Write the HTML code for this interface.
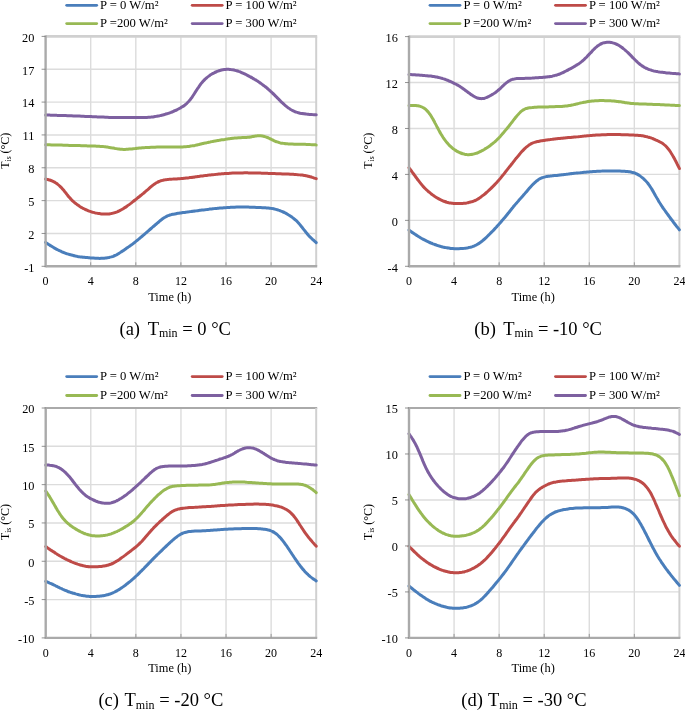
<!DOCTYPE html>
<html><head><meta charset="utf-8"><style>
html,body{margin:0;padding:0;background:#fff;}
body{width:685px;height:710px;overflow:hidden;position:relative;}
svg{position:absolute;left:0;top:0;will-change:transform;}
.t{font-family:"Liberation Serif",serif;font-size:12px;fill:#000;}
.cap{font-family:"Liberation Serif",serif;font-size:18.5px;fill:#000;}
</style></head><body>
<svg width="685" height="710" viewBox="0 0 685 710">
<rect width="685" height="710" fill="#fff"/>
<line x1="90.70" y1="36.40" x2="90.70" y2="266.30" stroke="#dcdcdc" stroke-width="1.4"/>
<line x1="135.80" y1="36.40" x2="135.80" y2="266.30" stroke="#dcdcdc" stroke-width="1.4"/>
<line x1="180.90" y1="36.40" x2="180.90" y2="266.30" stroke="#dcdcdc" stroke-width="1.4"/>
<line x1="226.00" y1="36.40" x2="226.00" y2="266.30" stroke="#dcdcdc" stroke-width="1.4"/>
<line x1="271.10" y1="36.40" x2="271.10" y2="266.30" stroke="#dcdcdc" stroke-width="1.4"/>
<line x1="45.60" y1="233.46" x2="316.20" y2="233.46" stroke="#dcdcdc" stroke-width="1.4"/>
<line x1="45.60" y1="200.61" x2="316.20" y2="200.61" stroke="#dcdcdc" stroke-width="1.4"/>
<line x1="45.60" y1="167.77" x2="316.20" y2="167.77" stroke="#dcdcdc" stroke-width="1.4"/>
<line x1="45.60" y1="134.93" x2="316.20" y2="134.93" stroke="#dcdcdc" stroke-width="1.4"/>
<line x1="45.60" y1="102.09" x2="316.20" y2="102.09" stroke="#dcdcdc" stroke-width="1.4"/>
<line x1="45.60" y1="69.24" x2="316.20" y2="69.24" stroke="#dcdcdc" stroke-width="1.4"/>
<line x1="45.60" y1="36.40" x2="317.20" y2="36.40" stroke="#d0d0d0" stroke-width="2.6"/>
<line x1="316.20" y1="36.40" x2="316.20" y2="266.30" stroke="#d0d0d0" stroke-width="2"/>
<path d="M45.6 115.0 C45.9 115.0 46.9 115.0 47.6 115.1 C48.3 115.1 48.9 115.1 49.6 115.1 C50.2 115.1 50.9 115.2 51.6 115.2 C52.2 115.2 52.9 115.2 53.6 115.2 C54.2 115.3 54.9 115.3 55.5 115.3 C56.2 115.3 56.9 115.4 57.5 115.4 C58.2 115.4 58.9 115.4 59.5 115.4 C60.2 115.5 60.9 115.5 61.5 115.5 C62.2 115.5 62.8 115.5 63.5 115.6 C64.2 115.6 64.8 115.6 65.5 115.6 C66.2 115.7 66.8 115.7 67.5 115.7 C68.1 115.7 68.8 115.7 69.5 115.8 C70.1 115.8 70.8 115.8 71.5 115.8 C72.1 115.9 72.8 115.9 73.5 115.9 C74.1 115.9 74.8 116.0 75.4 116.0 C76.1 116.0 76.8 116.0 77.4 116.1 C78.1 116.1 78.8 116.1 79.4 116.1 C80.1 116.2 80.8 116.2 81.4 116.2 C82.1 116.2 82.7 116.3 83.4 116.3 C84.1 116.3 84.7 116.3 85.4 116.4 C86.1 116.4 86.7 116.4 87.4 116.4 C88.0 116.5 88.7 116.5 89.4 116.5 C90.0 116.6 90.7 116.6 91.4 116.6 C92.0 116.6 92.7 116.7 93.4 116.7 C94.0 116.7 94.7 116.8 95.3 116.8 C96.0 116.8 96.7 116.9 97.3 116.9 C98.0 116.9 98.7 116.9 99.3 117.0 C100.0 117.0 100.6 117.0 101.3 117.1 C102.0 117.1 102.6 117.1 103.3 117.1 C104.0 117.2 104.6 117.2 105.3 117.2 C106.0 117.2 106.6 117.3 107.3 117.3 C107.9 117.3 108.6 117.3 109.3 117.4 C109.9 117.4 110.6 117.4 111.3 117.4 C111.9 117.4 112.6 117.5 113.2 117.5 C113.9 117.5 114.6 117.5 115.2 117.5 C115.9 117.5 116.6 117.5 117.2 117.6 C117.9 117.6 118.6 117.6 119.2 117.6 C119.9 117.6 120.5 117.6 121.2 117.6 C121.9 117.6 122.5 117.6 123.2 117.6 C123.9 117.6 124.5 117.6 125.2 117.6 C125.9 117.6 126.5 117.6 127.2 117.6 C127.8 117.6 128.5 117.6 129.2 117.6 C129.8 117.6 130.5 117.6 131.2 117.6 C131.8 117.6 132.5 117.6 133.1 117.6 C133.8 117.6 134.5 117.6 135.1 117.6 C135.8 117.6 136.5 117.6 137.1 117.6 C137.8 117.6 138.5 117.6 139.1 117.6 C139.8 117.6 140.4 117.6 141.1 117.6 C141.8 117.6 142.4 117.6 143.1 117.6 C143.8 117.5 144.4 117.5 145.1 117.5 C145.7 117.5 146.4 117.4 147.1 117.4 C147.7 117.4 148.4 117.3 149.1 117.3 C149.7 117.2 150.4 117.2 151.1 117.1 C151.7 117.0 152.4 116.9 153.0 116.9 C153.7 116.8 154.4 116.7 155.0 116.6 C155.7 116.5 156.4 116.4 157.0 116.2 C157.7 116.1 158.3 116.0 159.0 115.9 C159.7 115.7 160.3 115.6 161.0 115.4 C161.7 115.3 162.3 115.1 163.0 114.9 C163.7 114.8 164.3 114.6 165.0 114.4 C165.6 114.2 166.3 114.0 167.0 113.8 C167.6 113.6 168.3 113.4 169.0 113.1 C169.6 112.9 170.3 112.6 171.0 112.4 C171.6 112.1 172.3 111.9 172.9 111.6 C173.6 111.3 174.3 111.0 174.9 110.7 C175.6 110.4 176.3 110.1 176.9 109.8 C177.6 109.4 178.2 109.1 178.9 108.7 C179.6 108.4 180.2 108.0 180.9 107.6 C181.6 107.2 182.2 106.8 182.9 106.4 C183.6 106.0 184.2 105.5 184.9 105.0 C185.5 104.5 186.2 103.9 186.9 103.3 C187.5 102.7 188.2 102.0 188.9 101.3 C189.5 100.5 190.2 99.7 190.8 98.8 C191.5 98.0 192.2 97.0 192.8 96.0 C193.5 95.0 194.2 94.0 194.8 92.9 C195.5 91.9 196.2 90.8 196.8 89.8 C197.5 88.8 198.1 87.7 198.8 86.8 C199.5 85.8 200.1 84.9 200.8 84.0 C201.5 83.1 202.1 82.3 202.8 81.6 C203.4 80.8 204.1 80.1 204.8 79.5 C205.4 78.8 206.1 78.2 206.8 77.7 C207.4 77.1 208.1 76.6 208.8 76.1 C209.4 75.6 210.1 75.2 210.7 74.7 C211.4 74.3 212.1 73.9 212.7 73.5 C213.4 73.2 214.1 72.8 214.7 72.5 C215.4 72.2 216.1 71.9 216.7 71.6 C217.4 71.3 218.0 71.1 218.7 70.8 C219.4 70.6 220.0 70.4 220.7 70.2 C221.4 70.0 222.0 69.9 222.7 69.8 C223.3 69.6 224.0 69.6 224.7 69.5 C225.3 69.4 226.0 69.4 226.7 69.3 C227.3 69.3 228.0 69.3 228.7 69.3 C229.3 69.4 230.0 69.4 230.6 69.5 C231.3 69.5 232.0 69.6 232.6 69.8 C233.3 69.9 234.0 70.0 234.6 70.2 C235.3 70.3 235.9 70.5 236.6 70.7 C237.3 70.9 237.9 71.1 238.6 71.4 C239.3 71.6 239.9 71.8 240.6 72.1 C241.3 72.4 241.9 72.7 242.6 73.0 C243.2 73.3 243.9 73.6 244.6 73.9 C245.2 74.2 245.9 74.5 246.6 74.9 C247.2 75.2 247.9 75.5 248.5 75.9 C249.2 76.3 249.9 76.6 250.5 77.0 C251.2 77.3 251.9 77.7 252.5 78.1 C253.2 78.5 253.9 78.9 254.5 79.3 C255.2 79.7 255.8 80.1 256.5 80.5 C257.2 80.9 257.8 81.3 258.5 81.8 C259.2 82.2 259.8 82.7 260.5 83.1 C261.2 83.6 261.8 84.1 262.5 84.6 C263.1 85.1 263.8 85.6 264.5 86.1 C265.1 86.6 265.8 87.1 266.5 87.7 C267.1 88.2 267.8 88.8 268.4 89.3 C269.1 89.9 269.8 90.5 270.4 91.1 C271.1 91.7 271.8 92.4 272.4 93.0 C273.1 93.6 273.8 94.3 274.4 94.9 C275.1 95.6 275.7 96.3 276.4 96.9 C277.1 97.6 277.7 98.3 278.4 98.9 C279.1 99.6 279.7 100.3 280.4 100.9 C281.0 101.6 281.7 102.2 282.4 102.8 C283.0 103.5 283.7 104.1 284.4 104.7 C285.0 105.3 285.7 105.9 286.4 106.4 C287.0 106.9 287.7 107.5 288.3 107.9 C289.0 108.4 289.7 108.9 290.3 109.3 C291.0 109.7 291.7 110.0 292.3 110.4 C293.0 110.7 293.6 111.0 294.3 111.3 C295.0 111.6 295.6 111.9 296.3 112.1 C297.0 112.3 297.6 112.5 298.3 112.7 C299.0 112.9 299.6 113.0 300.3 113.2 C300.9 113.3 301.6 113.4 302.3 113.5 C302.9 113.6 303.6 113.7 304.3 113.8 C304.9 113.9 305.6 114.0 306.3 114.1 C306.9 114.1 307.6 114.2 308.2 114.2 C308.9 114.3 309.6 114.4 310.2 114.4 C310.9 114.5 311.6 114.5 312.2 114.6 C312.9 114.6 313.5 114.6 314.2 114.7 C314.9 114.7 315.9 114.8 316.2 114.8" fill="none" stroke="#7d60a0" stroke-width="3.0" stroke-linejoin="round" stroke-linecap="round"/>
<path d="M45.6 144.7 C45.9 144.7 46.9 144.7 47.6 144.8 C48.3 144.8 48.9 144.8 49.6 144.8 C50.2 144.8 50.9 144.8 51.6 144.9 C52.2 144.9 52.9 144.9 53.6 144.9 C54.2 144.9 54.9 145.0 55.5 145.0 C56.2 145.0 56.9 145.0 57.5 145.0 C58.2 145.0 58.9 145.1 59.5 145.1 C60.2 145.1 60.9 145.1 61.5 145.1 C62.2 145.2 62.8 145.2 63.5 145.2 C64.2 145.2 64.8 145.2 65.5 145.3 C66.2 145.3 66.8 145.3 67.5 145.3 C68.1 145.3 68.8 145.3 69.5 145.4 C70.1 145.4 70.8 145.4 71.5 145.4 C72.1 145.4 72.8 145.5 73.5 145.5 C74.1 145.5 74.8 145.5 75.4 145.5 C76.1 145.6 76.8 145.6 77.4 145.6 C78.1 145.6 78.8 145.6 79.4 145.6 C80.1 145.7 80.8 145.7 81.4 145.7 C82.1 145.7 82.7 145.7 83.4 145.8 C84.1 145.8 84.7 145.8 85.4 145.8 C86.1 145.8 86.7 145.9 87.4 145.9 C88.0 145.9 88.7 145.9 89.4 145.9 C90.0 146.0 90.7 146.0 91.4 146.0 C92.0 146.0 92.7 146.0 93.4 146.1 C94.0 146.1 94.7 146.1 95.3 146.1 C96.0 146.1 96.7 146.2 97.3 146.2 C98.0 146.2 98.7 146.3 99.3 146.3 C100.0 146.4 100.6 146.4 101.3 146.5 C102.0 146.5 102.6 146.6 103.3 146.6 C104.0 146.7 104.6 146.8 105.3 146.8 C106.0 146.9 106.6 147.0 107.3 147.1 C107.9 147.2 108.6 147.3 109.3 147.4 C109.9 147.5 110.6 147.6 111.3 147.8 C111.9 147.9 112.6 148.0 113.2 148.1 C113.9 148.2 114.6 148.3 115.2 148.4 C115.9 148.5 116.6 148.7 117.2 148.8 C117.9 148.9 118.6 149.0 119.2 149.0 C119.9 149.1 120.5 149.2 121.2 149.3 C121.9 149.3 122.5 149.4 123.2 149.4 C123.9 149.4 124.5 149.4 125.2 149.4 C125.9 149.4 126.5 149.3 127.2 149.3 C127.8 149.3 128.5 149.2 129.2 149.1 C129.8 149.1 130.5 149.0 131.2 148.9 C131.8 148.9 132.5 148.8 133.1 148.7 C133.8 148.6 134.5 148.5 135.1 148.5 C135.8 148.4 136.5 148.3 137.1 148.2 C137.8 148.2 138.5 148.1 139.1 148.0 C139.8 148.0 140.4 147.9 141.1 147.9 C141.8 147.8 142.4 147.8 143.1 147.7 C143.8 147.7 144.4 147.6 145.1 147.6 C145.7 147.5 146.4 147.5 147.1 147.5 C147.7 147.4 148.4 147.4 149.1 147.4 C149.7 147.3 150.4 147.3 151.1 147.3 C151.7 147.3 152.4 147.2 153.0 147.2 C153.7 147.2 154.4 147.2 155.0 147.2 C155.7 147.1 156.4 147.1 157.0 147.1 C157.7 147.1 158.3 147.1 159.0 147.1 C159.7 147.1 160.3 147.0 161.0 147.0 C161.7 147.0 162.3 147.0 163.0 147.0 C163.7 147.0 164.3 147.0 165.0 147.0 C165.6 147.0 166.3 147.0 167.0 147.0 C167.6 147.0 168.3 147.0 169.0 147.0 C169.6 147.0 170.3 147.0 171.0 147.0 C171.6 147.0 172.3 147.1 172.9 147.1 C173.6 147.1 174.3 147.1 174.9 147.1 C175.6 147.1 176.3 147.1 176.9 147.1 C177.6 147.1 178.2 147.1 178.9 147.1 C179.6 147.1 180.2 147.0 180.9 147.0 C181.6 147.0 182.2 147.0 182.9 146.9 C183.6 146.9 184.2 146.8 184.9 146.8 C185.5 146.7 186.2 146.7 186.9 146.6 C187.5 146.5 188.2 146.5 188.9 146.4 C189.5 146.3 190.2 146.2 190.8 146.1 C191.5 146.0 192.2 145.9 192.8 145.7 C193.5 145.6 194.2 145.5 194.8 145.4 C195.5 145.2 196.2 145.1 196.8 144.9 C197.5 144.8 198.1 144.6 198.8 144.5 C199.5 144.3 200.1 144.2 200.8 144.0 C201.5 143.9 202.1 143.7 202.8 143.6 C203.4 143.4 204.1 143.3 204.8 143.1 C205.4 143.0 206.1 142.8 206.8 142.7 C207.4 142.5 208.1 142.4 208.8 142.2 C209.4 142.1 210.1 142.0 210.7 141.8 C211.4 141.7 212.1 141.6 212.7 141.4 C213.4 141.3 214.1 141.2 214.7 141.1 C215.4 140.9 216.1 140.8 216.7 140.7 C217.4 140.6 218.0 140.5 218.7 140.4 C219.4 140.2 220.0 140.1 220.7 140.0 C221.4 139.9 222.0 139.8 222.7 139.7 C223.3 139.6 224.0 139.5 224.7 139.4 C225.3 139.3 226.0 139.2 226.7 139.1 C227.3 139.0 228.0 138.9 228.7 138.8 C229.3 138.7 230.0 138.6 230.6 138.5 C231.3 138.4 232.0 138.3 232.6 138.2 C233.3 138.2 234.0 138.1 234.6 138.0 C235.3 138.0 235.9 137.9 236.6 137.9 C237.3 137.8 237.9 137.8 238.6 137.8 C239.3 137.8 239.9 137.7 240.6 137.7 C241.3 137.7 241.9 137.7 242.6 137.6 C243.2 137.6 243.9 137.6 244.6 137.5 C245.2 137.5 245.9 137.4 246.6 137.4 C247.2 137.3 247.9 137.3 248.5 137.2 C249.2 137.1 249.9 137.0 250.5 136.9 C251.2 136.8 251.9 136.6 252.5 136.5 C253.2 136.4 253.9 136.3 254.5 136.2 C255.2 136.1 255.8 136.0 256.5 135.9 C257.2 135.9 257.8 135.8 258.5 135.8 C259.2 135.8 259.8 135.8 260.5 135.8 C261.2 135.8 261.8 135.9 262.5 136.0 C263.1 136.1 263.8 136.3 264.5 136.5 C265.1 136.6 265.8 136.9 266.5 137.1 C267.1 137.4 267.8 137.6 268.4 137.9 C269.1 138.2 269.8 138.6 270.4 138.9 C271.1 139.3 271.8 139.6 272.4 139.9 C273.1 140.3 273.8 140.6 274.4 140.9 C275.1 141.2 275.7 141.5 276.4 141.7 C277.1 141.9 277.7 142.2 278.4 142.3 C279.1 142.5 279.7 142.7 280.4 142.9 C281.0 143.0 281.7 143.1 282.4 143.2 C283.0 143.4 283.7 143.5 284.4 143.5 C285.0 143.6 285.7 143.7 286.4 143.8 C287.0 143.8 287.7 143.9 288.3 143.9 C289.0 144.0 289.7 144.0 290.3 144.0 C291.0 144.1 291.7 144.1 292.3 144.1 C293.0 144.1 293.6 144.1 294.3 144.2 C295.0 144.2 295.6 144.2 296.3 144.2 C297.0 144.2 297.6 144.2 298.3 144.2 C299.0 144.2 299.6 144.2 300.3 144.2 C300.9 144.2 301.6 144.2 302.3 144.3 C302.9 144.3 303.6 144.3 304.3 144.3 C304.9 144.3 305.6 144.4 306.3 144.4 C306.9 144.4 307.6 144.4 308.2 144.5 C308.9 144.5 309.6 144.5 310.2 144.6 C310.9 144.6 311.6 144.6 312.2 144.7 C312.9 144.7 313.5 144.7 314.2 144.8 C314.9 144.8 315.9 144.9 316.2 144.9" fill="none" stroke="#98b954" stroke-width="3.0" stroke-linejoin="round" stroke-linecap="round"/>
<path d="M45.6 179.0 C45.9 179.1 46.9 179.3 47.6 179.5 C48.3 179.7 48.9 179.8 49.6 180.0 C50.2 180.2 50.9 180.5 51.6 180.7 C52.2 181.0 52.9 181.2 53.6 181.6 C54.2 181.9 54.9 182.3 55.5 182.7 C56.2 183.1 56.9 183.5 57.5 184.1 C58.2 184.6 58.9 185.2 59.5 185.8 C60.2 186.4 60.9 187.1 61.5 187.8 C62.2 188.6 62.8 189.3 63.5 190.1 C64.2 190.9 64.8 191.8 65.5 192.6 C66.2 193.4 66.8 194.3 67.5 195.1 C68.1 196.0 68.8 196.8 69.5 197.6 C70.1 198.3 70.8 199.0 71.5 199.7 C72.1 200.4 72.8 201.0 73.5 201.6 C74.1 202.2 74.8 202.8 75.4 203.3 C76.1 203.8 76.8 204.3 77.4 204.8 C78.1 205.3 78.8 205.7 79.4 206.2 C80.1 206.6 80.8 207.0 81.4 207.4 C82.1 207.8 82.7 208.2 83.4 208.5 C84.1 208.9 84.7 209.2 85.4 209.5 C86.1 209.8 86.7 210.1 87.4 210.4 C88.0 210.7 88.7 210.9 89.4 211.2 C90.0 211.4 90.7 211.7 91.4 211.9 C92.0 212.1 92.7 212.2 93.4 212.4 C94.0 212.6 94.7 212.8 95.3 212.9 C96.0 213.0 96.7 213.2 97.3 213.3 C98.0 213.4 98.7 213.5 99.3 213.6 C100.0 213.7 100.6 213.8 101.3 213.9 C102.0 214.0 102.6 214.0 103.3 214.1 C104.0 214.1 104.6 214.1 105.3 214.1 C106.0 214.1 106.6 214.1 107.3 214.1 C107.9 214.1 108.6 214.0 109.3 213.9 C109.9 213.8 110.6 213.7 111.3 213.6 C111.9 213.5 112.6 213.3 113.2 213.1 C113.9 213.0 114.6 212.8 115.2 212.5 C115.9 212.3 116.6 212.0 117.2 211.8 C117.9 211.5 118.6 211.2 119.2 210.9 C119.9 210.5 120.5 210.2 121.2 209.8 C121.9 209.5 122.5 209.1 123.2 208.7 C123.9 208.3 124.5 207.8 125.2 207.4 C125.9 207.0 126.5 206.5 127.2 206.0 C127.8 205.6 128.5 205.1 129.2 204.6 C129.8 204.1 130.5 203.6 131.2 203.1 C131.8 202.6 132.5 202.1 133.1 201.5 C133.8 201.0 134.5 200.5 135.1 200.0 C135.8 199.4 136.5 198.9 137.1 198.4 C137.8 197.9 138.5 197.3 139.1 196.8 C139.8 196.3 140.4 195.7 141.1 195.2 C141.8 194.7 142.4 194.1 143.1 193.6 C143.8 193.0 144.4 192.5 145.1 191.9 C145.7 191.4 146.4 190.8 147.1 190.2 C147.7 189.6 148.4 189.0 149.1 188.5 C149.7 187.9 150.4 187.3 151.1 186.7 C151.7 186.2 152.4 185.6 153.0 185.1 C153.7 184.6 154.4 184.1 155.0 183.7 C155.7 183.2 156.4 182.8 157.0 182.5 C157.7 182.1 158.3 181.8 159.0 181.5 C159.7 181.2 160.3 181.0 161.0 180.7 C161.7 180.5 162.3 180.3 163.0 180.2 C163.7 180.0 164.3 179.9 165.0 179.8 C165.6 179.7 166.3 179.6 167.0 179.5 C167.6 179.4 168.3 179.4 169.0 179.3 C169.6 179.2 170.3 179.2 171.0 179.2 C171.6 179.1 172.3 179.1 172.9 179.1 C173.6 179.0 174.3 179.0 174.9 179.0 C175.6 178.9 176.3 178.9 176.9 178.9 C177.6 178.8 178.2 178.8 178.9 178.7 C179.6 178.7 180.2 178.6 180.9 178.6 C181.6 178.5 182.2 178.5 182.9 178.4 C183.6 178.3 184.2 178.3 184.9 178.2 C185.5 178.1 186.2 178.1 186.9 178.0 C187.5 177.9 188.2 177.8 188.9 177.7 C189.5 177.6 190.2 177.6 190.8 177.5 C191.5 177.4 192.2 177.3 192.8 177.2 C193.5 177.1 194.2 177.0 194.8 176.9 C195.5 176.8 196.2 176.8 196.8 176.7 C197.5 176.6 198.1 176.5 198.8 176.4 C199.5 176.3 200.1 176.2 200.8 176.1 C201.5 176.0 202.1 176.0 202.8 175.9 C203.4 175.8 204.1 175.7 204.8 175.6 C205.4 175.5 206.1 175.4 206.8 175.4 C207.4 175.3 208.1 175.2 208.8 175.1 C209.4 175.0 210.1 175.0 210.7 174.9 C211.4 174.8 212.1 174.8 212.7 174.7 C213.4 174.6 214.1 174.5 214.7 174.5 C215.4 174.4 216.1 174.3 216.7 174.3 C217.4 174.2 218.0 174.2 218.7 174.1 C219.4 174.0 220.0 174.0 220.7 173.9 C221.4 173.9 222.0 173.8 222.7 173.8 C223.3 173.7 224.0 173.7 224.7 173.6 C225.3 173.6 226.0 173.5 226.7 173.5 C227.3 173.4 228.0 173.4 228.7 173.4 C229.3 173.3 230.0 173.3 230.6 173.2 C231.3 173.2 232.0 173.2 232.6 173.1 C233.3 173.1 234.0 173.1 234.6 173.1 C235.3 173.0 235.9 173.0 236.6 173.0 C237.3 173.0 237.9 172.9 238.6 172.9 C239.3 172.9 239.9 172.9 240.6 172.9 C241.3 172.9 241.9 172.9 242.6 172.9 C243.2 172.8 243.9 172.8 244.6 172.8 C245.2 172.8 245.9 172.8 246.6 172.8 C247.2 172.8 247.9 172.9 248.5 172.9 C249.2 172.9 249.9 172.9 250.5 172.9 C251.2 172.9 251.9 172.9 252.5 172.9 C253.2 172.9 253.9 172.9 254.5 173.0 C255.2 173.0 255.8 173.0 256.5 173.0 C257.2 173.0 257.8 173.0 258.5 173.1 C259.2 173.1 259.8 173.1 260.5 173.1 C261.2 173.1 261.8 173.2 262.5 173.2 C263.1 173.2 263.8 173.2 264.5 173.2 C265.1 173.3 265.8 173.3 266.5 173.3 C267.1 173.3 267.8 173.4 268.4 173.4 C269.1 173.4 269.8 173.4 270.4 173.5 C271.1 173.5 271.8 173.5 272.4 173.5 C273.1 173.5 273.8 173.6 274.4 173.6 C275.1 173.6 275.7 173.6 276.4 173.7 C277.1 173.7 277.7 173.7 278.4 173.7 C279.1 173.7 279.7 173.8 280.4 173.8 C281.0 173.8 281.7 173.8 282.4 173.9 C283.0 173.9 283.7 173.9 284.4 173.9 C285.0 174.0 285.7 174.0 286.4 174.0 C287.0 174.0 287.7 174.1 288.3 174.1 C289.0 174.1 289.7 174.1 290.3 174.2 C291.0 174.2 291.7 174.2 292.3 174.2 C293.0 174.3 293.6 174.3 294.3 174.4 C295.0 174.4 295.6 174.4 296.3 174.5 C297.0 174.5 297.6 174.6 298.3 174.7 C299.0 174.7 299.6 174.8 300.3 174.9 C300.9 174.9 301.6 175.0 302.3 175.1 C302.9 175.2 303.6 175.3 304.3 175.4 C304.9 175.5 305.6 175.7 306.3 175.8 C306.9 175.9 307.6 176.1 308.2 176.2 C308.9 176.4 309.6 176.6 310.2 176.8 C310.9 177.0 311.6 177.2 312.2 177.4 C312.9 177.6 313.5 177.8 314.2 178.1 C314.9 178.3 315.9 178.6 316.2 178.7" fill="none" stroke="#be4b48" stroke-width="3.0" stroke-linejoin="round" stroke-linecap="round"/>
<path d="M45.6 242.4 C45.9 242.7 46.9 243.3 47.6 243.7 C48.3 244.2 48.9 244.6 49.6 245.0 C50.2 245.5 50.9 245.9 51.6 246.3 C52.2 246.7 52.9 247.1 53.6 247.5 C54.2 247.9 54.9 248.3 55.5 248.6 C56.2 249.0 56.9 249.4 57.5 249.7 C58.2 250.1 58.9 250.4 59.5 250.7 C60.2 251.0 60.9 251.3 61.5 251.6 C62.2 251.9 62.8 252.2 63.5 252.4 C64.2 252.7 64.8 252.9 65.5 253.2 C66.2 253.4 66.8 253.7 67.5 253.9 C68.1 254.1 68.8 254.3 69.5 254.5 C70.1 254.7 70.8 254.9 71.5 255.0 C72.1 255.2 72.8 255.4 73.5 255.5 C74.1 255.7 74.8 255.8 75.4 256.0 C76.1 256.1 76.8 256.2 77.4 256.4 C78.1 256.5 78.8 256.6 79.4 256.7 C80.1 256.8 80.8 256.9 81.4 257.0 C82.1 257.1 82.7 257.2 83.4 257.2 C84.1 257.3 84.7 257.4 85.4 257.5 C86.1 257.5 86.7 257.6 87.4 257.6 C88.0 257.7 88.7 257.8 89.4 257.8 C90.0 257.9 90.7 257.9 91.4 258.0 C92.0 258.0 92.7 258.1 93.4 258.1 C94.0 258.2 94.7 258.2 95.3 258.2 C96.0 258.3 96.7 258.3 97.3 258.3 C98.0 258.3 98.7 258.4 99.3 258.4 C100.0 258.4 100.6 258.4 101.3 258.3 C102.0 258.3 102.6 258.3 103.3 258.3 C104.0 258.2 104.6 258.2 105.3 258.1 C106.0 258.0 106.6 257.9 107.3 257.8 C107.9 257.7 108.6 257.6 109.3 257.4 C109.9 257.3 110.6 257.1 111.3 256.9 C111.9 256.7 112.6 256.5 113.2 256.3 C113.9 256.0 114.6 255.7 115.2 255.4 C115.9 255.1 116.6 254.8 117.2 254.4 C117.9 254.0 118.6 253.6 119.2 253.2 C119.9 252.8 120.5 252.4 121.2 251.9 C121.9 251.5 122.5 251.0 123.2 250.6 C123.9 250.1 124.5 249.7 125.2 249.2 C125.9 248.7 126.5 248.3 127.2 247.8 C127.8 247.4 128.5 246.9 129.2 246.5 C129.8 246.0 130.5 245.5 131.2 245.0 C131.8 244.6 132.5 244.1 133.1 243.6 C133.8 243.1 134.5 242.6 135.1 242.1 C135.8 241.6 136.5 241.0 137.1 240.5 C137.8 239.9 138.5 239.4 139.1 238.8 C139.8 238.2 140.4 237.7 141.1 237.1 C141.8 236.5 142.4 236.0 143.1 235.4 C143.8 234.8 144.4 234.3 145.1 233.7 C145.7 233.1 146.4 232.6 147.1 232.0 C147.7 231.4 148.4 230.8 149.1 230.3 C149.7 229.7 150.4 229.1 151.1 228.5 C151.7 228.0 152.4 227.4 153.0 226.8 C153.7 226.3 154.4 225.7 155.0 225.1 C155.7 224.5 156.4 224.0 157.0 223.4 C157.7 222.8 158.3 222.2 159.0 221.7 C159.7 221.1 160.3 220.5 161.0 220.0 C161.7 219.5 162.3 219.0 163.0 218.5 C163.7 218.0 164.3 217.6 165.0 217.2 C165.6 216.8 166.3 216.5 167.0 216.1 C167.6 215.8 168.3 215.6 169.0 215.3 C169.6 215.1 170.3 214.9 171.0 214.7 C171.6 214.5 172.3 214.4 172.9 214.3 C173.6 214.1 174.3 214.0 174.9 213.9 C175.6 213.8 176.3 213.7 176.9 213.5 C177.6 213.4 178.2 213.3 178.9 213.2 C179.6 213.1 180.2 213.0 180.9 212.9 C181.6 212.8 182.2 212.7 182.9 212.6 C183.6 212.6 184.2 212.5 184.9 212.4 C185.5 212.3 186.2 212.2 186.9 212.1 C187.5 212.0 188.2 211.9 188.9 211.8 C189.5 211.7 190.2 211.6 190.8 211.6 C191.5 211.5 192.2 211.4 192.8 211.3 C193.5 211.2 194.2 211.1 194.8 211.0 C195.5 210.9 196.2 210.8 196.8 210.8 C197.5 210.7 198.1 210.6 198.8 210.5 C199.5 210.4 200.1 210.3 200.8 210.2 C201.5 210.1 202.1 210.1 202.8 210.0 C203.4 209.9 204.1 209.8 204.8 209.7 C205.4 209.6 206.1 209.5 206.8 209.5 C207.4 209.4 208.1 209.3 208.8 209.2 C209.4 209.1 210.1 209.1 210.7 209.0 C211.4 208.9 212.1 208.9 212.7 208.8 C213.4 208.7 214.1 208.6 214.7 208.6 C215.4 208.5 216.1 208.4 216.7 208.4 C217.4 208.3 218.0 208.3 218.7 208.2 C219.4 208.1 220.0 208.1 220.7 208.0 C221.4 208.0 222.0 207.9 222.7 207.9 C223.3 207.8 224.0 207.8 224.7 207.7 C225.3 207.7 226.0 207.6 226.7 207.6 C227.3 207.5 228.0 207.5 228.7 207.5 C229.3 207.4 230.0 207.4 230.6 207.3 C231.3 207.3 232.0 207.3 232.6 207.2 C233.3 207.2 234.0 207.2 234.6 207.2 C235.3 207.1 235.9 207.1 236.6 207.1 C237.3 207.1 237.9 207.1 238.6 207.0 C239.3 207.0 239.9 207.0 240.6 207.0 C241.3 207.0 241.9 207.0 242.6 207.0 C243.2 207.0 243.9 207.0 244.6 207.0 C245.2 207.0 245.9 207.0 246.6 207.1 C247.2 207.1 247.9 207.1 248.5 207.1 C249.2 207.1 249.9 207.2 250.5 207.2 C251.2 207.2 251.9 207.2 252.5 207.3 C253.2 207.3 253.9 207.3 254.5 207.3 C255.2 207.4 255.8 207.4 256.5 207.4 C257.2 207.4 257.8 207.5 258.5 207.5 C259.2 207.5 259.8 207.6 260.5 207.6 C261.2 207.6 261.8 207.6 262.5 207.7 C263.1 207.7 263.8 207.7 264.5 207.7 C265.1 207.8 265.8 207.8 266.5 207.9 C267.1 207.9 267.8 208.0 268.4 208.0 C269.1 208.1 269.8 208.2 270.4 208.3 C271.1 208.3 271.8 208.4 272.4 208.6 C273.1 208.7 273.8 208.8 274.4 209.0 C275.1 209.1 275.7 209.3 276.4 209.5 C277.1 209.6 277.7 209.8 278.4 210.1 C279.1 210.3 279.7 210.5 280.4 210.8 C281.0 211.0 281.7 211.3 282.4 211.6 C283.0 211.9 283.7 212.2 284.4 212.5 C285.0 212.9 285.7 213.2 286.4 213.6 C287.0 214.0 287.7 214.4 288.3 214.8 C289.0 215.2 289.7 215.6 290.3 216.0 C291.0 216.5 291.7 216.9 292.3 217.4 C293.0 217.9 293.6 218.4 294.3 219.0 C295.0 219.5 295.6 220.1 296.3 220.7 C297.0 221.3 297.6 222.0 298.3 222.7 C299.0 223.5 299.6 224.3 300.3 225.1 C300.9 225.9 301.6 226.8 302.3 227.6 C302.9 228.5 303.6 229.3 304.3 230.2 C304.9 231.0 305.6 231.9 306.3 232.7 C306.9 233.5 307.6 234.3 308.2 235.0 C308.9 235.8 309.6 236.5 310.2 237.1 C310.9 237.8 311.6 238.4 312.2 239.1 C312.9 239.7 313.5 240.3 314.2 240.8 C314.9 241.4 315.9 242.3 316.2 242.6" fill="none" stroke="#4a7ebb" stroke-width="3.0" stroke-linejoin="round" stroke-linecap="round"/>
<line x1="45.60" y1="35.40" x2="45.60" y2="267.30" stroke="#aaaaaa" stroke-width="2.4"/>
<line x1="45.60" y1="266.30" x2="317.20" y2="266.30" stroke="#aaaaaa" stroke-width="2.4"/>
<line x1="41.60" y1="266.30" x2="45.60" y2="266.30" stroke="#777" stroke-width="0.8"/>
<line x1="41.60" y1="233.46" x2="45.60" y2="233.46" stroke="#777" stroke-width="0.8"/>
<line x1="41.60" y1="200.61" x2="45.60" y2="200.61" stroke="#777" stroke-width="0.8"/>
<line x1="41.60" y1="167.77" x2="45.60" y2="167.77" stroke="#777" stroke-width="0.8"/>
<line x1="41.60" y1="134.93" x2="45.60" y2="134.93" stroke="#777" stroke-width="0.8"/>
<line x1="41.60" y1="102.09" x2="45.60" y2="102.09" stroke="#777" stroke-width="0.8"/>
<line x1="41.60" y1="69.24" x2="45.60" y2="69.24" stroke="#777" stroke-width="0.8"/>
<line x1="41.60" y1="36.40" x2="45.60" y2="36.40" stroke="#777" stroke-width="0.8"/>
<line x1="90.70" y1="262.30" x2="90.70" y2="266.30" stroke="#999" stroke-width="1"/>
<line x1="135.80" y1="262.30" x2="135.80" y2="266.30" stroke="#999" stroke-width="1"/>
<line x1="180.90" y1="262.30" x2="180.90" y2="266.30" stroke="#999" stroke-width="1"/>
<line x1="226.00" y1="262.30" x2="226.00" y2="266.30" stroke="#999" stroke-width="1"/>
<line x1="271.10" y1="262.30" x2="271.10" y2="266.30" stroke="#999" stroke-width="1"/>
<text x="34.40" y="271.70" text-anchor="end" class="t" style="font-size:12.3px">-1</text>
<text x="34.40" y="238.86" text-anchor="end" class="t" style="font-size:12.3px">2</text>
<text x="34.40" y="206.01" text-anchor="end" class="t" style="font-size:12.3px">5</text>
<text x="34.40" y="173.17" text-anchor="end" class="t" style="font-size:12.3px">8</text>
<text x="34.40" y="140.33" text-anchor="end" class="t" style="font-size:12.3px">11</text>
<text x="34.40" y="107.49" text-anchor="end" class="t" style="font-size:12.3px">14</text>
<text x="34.40" y="74.64" text-anchor="end" class="t" style="font-size:12.3px">17</text>
<text x="34.40" y="41.80" text-anchor="end" class="t" style="font-size:12.3px">20</text>
<text x="45.60" y="285.10" text-anchor="middle" class="t">0</text>
<text x="90.70" y="285.10" text-anchor="middle" class="t">4</text>
<text x="135.80" y="285.10" text-anchor="middle" class="t">8</text>
<text x="180.90" y="285.10" text-anchor="middle" class="t">12</text>
<text x="226.00" y="285.10" text-anchor="middle" class="t">16</text>
<text x="271.10" y="285.10" text-anchor="middle" class="t">20</text>
<text x="316.20" y="285.10" text-anchor="middle" class="t">24</text>
<text x="148.20" y="300.60" class="t" style="font-size:12.4px">Time (h)</text>
<text transform="translate(8.80 168.80) rotate(-90)" class="t">T<tspan font-size="7.5" dy="2">is</tspan><tspan dy="-2"> (°C)</tspan></text>
<line x1="66.70" y1="5.30" x2="96.70" y2="5.30" stroke="#4a7ebb" stroke-width="2.8" stroke-linecap="round"/>
<text x="100.10" y="8.80" class="t" style="font-size:12.65px">P = 0 W/m²</text>
<line x1="192.20" y1="5.30" x2="222.20" y2="5.30" stroke="#be4b48" stroke-width="2.8" stroke-linecap="round"/>
<text x="225.60" y="8.80" class="t" style="font-size:12.65px">P = 100 W/m²</text>
<line x1="66.70" y1="23.60" x2="96.70" y2="23.60" stroke="#98b954" stroke-width="2.8" stroke-linecap="round"/>
<text x="100.10" y="27.10" class="t" style="font-size:12.65px">P =200 W/m²</text>
<line x1="192.20" y1="23.60" x2="222.20" y2="23.60" stroke="#7d60a0" stroke-width="2.8" stroke-linecap="round"/>
<text x="225.60" y="27.10" class="t" style="font-size:12.65px">P = 300 W/m²</text>
<text x="119.50" y="335.00" class="cap">(a)<tspan dx="7.6">T</tspan><tspan font-size="12" dy="2.4">min</tspan><tspan dy="-2.4"> = 0 °C</tspan></text>
<line x1="454.07" y1="36.60" x2="454.07" y2="266.30" stroke="#dcdcdc" stroke-width="1.4"/>
<line x1="499.13" y1="36.60" x2="499.13" y2="266.30" stroke="#dcdcdc" stroke-width="1.4"/>
<line x1="544.20" y1="36.60" x2="544.20" y2="266.30" stroke="#dcdcdc" stroke-width="1.4"/>
<line x1="589.27" y1="36.60" x2="589.27" y2="266.30" stroke="#dcdcdc" stroke-width="1.4"/>
<line x1="634.33" y1="36.60" x2="634.33" y2="266.30" stroke="#dcdcdc" stroke-width="1.4"/>
<line x1="409.00" y1="220.36" x2="679.40" y2="220.36" stroke="#dcdcdc" stroke-width="1.4"/>
<line x1="409.00" y1="174.42" x2="679.40" y2="174.42" stroke="#dcdcdc" stroke-width="1.4"/>
<line x1="409.00" y1="128.48" x2="679.40" y2="128.48" stroke="#dcdcdc" stroke-width="1.4"/>
<line x1="409.00" y1="82.54" x2="679.40" y2="82.54" stroke="#dcdcdc" stroke-width="1.4"/>
<line x1="409.00" y1="36.60" x2="680.40" y2="36.60" stroke="#d0d0d0" stroke-width="2.6"/>
<line x1="679.40" y1="36.60" x2="679.40" y2="266.30" stroke="#d0d0d0" stroke-width="2"/>
<path d="M409.0 74.5 C409.3 74.5 410.3 74.6 411.0 74.6 C411.7 74.6 412.3 74.7 413.0 74.7 C413.6 74.8 414.3 74.8 415.0 74.8 C415.6 74.9 416.3 74.9 417.0 75.0 C417.6 75.0 418.3 75.1 418.9 75.1 C419.6 75.1 420.3 75.2 420.9 75.2 C421.6 75.3 422.3 75.3 422.9 75.4 C423.6 75.4 424.2 75.5 424.9 75.6 C425.6 75.6 426.2 75.7 426.9 75.7 C427.6 75.8 428.2 75.9 428.9 75.9 C429.5 76.0 430.2 76.1 430.9 76.1 C431.5 76.2 432.2 76.3 432.9 76.4 C433.5 76.5 434.2 76.6 434.8 76.7 C435.5 76.8 436.2 76.9 436.8 77.0 C437.5 77.2 438.2 77.3 438.8 77.5 C439.5 77.6 440.1 77.8 440.8 78.0 C441.5 78.1 442.1 78.3 442.8 78.6 C443.5 78.8 444.1 79.0 444.8 79.2 C445.5 79.5 446.1 79.7 446.8 80.0 C447.4 80.2 448.1 80.5 448.8 80.8 C449.4 81.1 450.1 81.4 450.8 81.7 C451.4 82.0 452.1 82.3 452.7 82.6 C453.4 83.0 454.1 83.3 454.7 83.6 C455.4 83.9 456.1 84.3 456.7 84.6 C457.4 85.0 458.0 85.3 458.7 85.7 C459.4 86.1 460.0 86.5 460.7 87.0 C461.4 87.4 462.0 87.9 462.7 88.3 C463.3 88.8 464.0 89.3 464.7 89.8 C465.3 90.3 466.0 90.8 466.7 91.3 C467.3 91.8 468.0 92.3 468.6 92.8 C469.3 93.3 470.0 93.8 470.6 94.2 C471.3 94.7 472.0 95.1 472.6 95.5 C473.3 96.0 473.9 96.4 474.6 96.7 C475.3 97.1 475.9 97.4 476.6 97.7 C477.3 97.9 477.9 98.1 478.6 98.3 C479.3 98.5 479.9 98.6 480.6 98.6 C481.2 98.7 481.9 98.6 482.6 98.6 C483.2 98.5 483.9 98.4 484.6 98.2 C485.2 98.0 485.9 97.8 486.5 97.5 C487.2 97.3 487.9 97.0 488.5 96.6 C489.2 96.3 489.9 96.0 490.5 95.6 C491.2 95.2 491.8 94.8 492.5 94.4 C493.2 94.0 493.8 93.6 494.5 93.1 C495.2 92.6 495.8 92.2 496.5 91.7 C497.1 91.1 497.8 90.6 498.5 90.0 C499.1 89.5 499.8 88.9 500.5 88.3 C501.1 87.6 501.8 87.0 502.4 86.4 C503.1 85.8 503.8 85.1 504.4 84.5 C505.1 83.9 505.8 83.4 506.4 82.8 C507.1 82.3 507.7 81.8 508.4 81.4 C509.1 81.0 509.7 80.6 510.4 80.2 C511.1 79.9 511.7 79.6 512.4 79.4 C513.1 79.2 513.7 79.0 514.4 78.9 C515.0 78.7 515.7 78.7 516.4 78.6 C517.0 78.5 517.7 78.5 518.4 78.5 C519.0 78.4 519.7 78.4 520.3 78.4 C521.0 78.4 521.7 78.4 522.3 78.4 C523.0 78.4 523.7 78.4 524.3 78.4 C525.0 78.4 525.6 78.3 526.3 78.3 C527.0 78.3 527.6 78.3 528.3 78.3 C529.0 78.2 529.6 78.2 530.3 78.2 C530.9 78.1 531.6 78.1 532.3 78.1 C532.9 78.0 533.6 78.0 534.3 77.9 C534.9 77.9 535.6 77.8 536.2 77.8 C536.9 77.8 537.6 77.7 538.2 77.7 C538.9 77.6 539.6 77.6 540.2 77.5 C540.9 77.5 541.5 77.4 542.2 77.4 C542.9 77.3 543.5 77.3 544.2 77.2 C544.9 77.2 545.5 77.1 546.2 77.0 C546.9 77.0 547.5 76.9 548.2 76.8 C548.8 76.7 549.5 76.7 550.2 76.5 C550.8 76.4 551.5 76.3 552.2 76.2 C552.8 76.1 553.5 75.9 554.1 75.7 C554.8 75.6 555.5 75.4 556.1 75.2 C556.8 75.0 557.5 74.8 558.1 74.5 C558.8 74.3 559.4 74.1 560.1 73.8 C560.8 73.5 561.4 73.2 562.1 72.9 C562.8 72.7 563.4 72.3 564.1 72.0 C564.7 71.7 565.4 71.4 566.1 71.0 C566.7 70.7 567.4 70.3 568.1 70.0 C568.7 69.6 569.4 69.2 570.0 68.9 C570.7 68.5 571.4 68.1 572.0 67.8 C572.7 67.4 573.4 67.1 574.0 66.7 C574.7 66.3 575.3 65.9 576.0 65.5 C576.7 65.1 577.3 64.7 578.0 64.3 C578.7 63.9 579.3 63.4 580.0 62.9 C580.7 62.4 581.3 61.9 582.0 61.4 C582.6 60.8 583.3 60.2 584.0 59.6 C584.6 59.0 585.3 58.3 586.0 57.7 C586.6 57.0 587.3 56.3 587.9 55.6 C588.6 54.9 589.3 54.2 589.9 53.5 C590.6 52.8 591.3 52.1 591.9 51.4 C592.6 50.7 593.2 50.0 593.9 49.3 C594.6 48.7 595.2 48.0 595.9 47.4 C596.6 46.9 597.2 46.3 597.9 45.8 C598.5 45.3 599.2 44.9 599.9 44.5 C600.5 44.1 601.2 43.8 601.9 43.5 C602.5 43.2 603.2 43.0 603.8 42.8 C604.5 42.6 605.2 42.5 605.8 42.4 C606.5 42.3 607.2 42.3 607.8 42.2 C608.5 42.2 609.1 42.3 609.8 42.3 C610.5 42.4 611.1 42.5 611.8 42.6 C612.5 42.8 613.1 42.9 613.8 43.1 C614.5 43.3 615.1 43.6 615.8 43.9 C616.4 44.2 617.1 44.5 617.8 44.8 C618.4 45.2 619.1 45.6 619.8 46.0 C620.4 46.4 621.1 46.9 621.7 47.4 C622.4 47.8 623.1 48.4 623.7 48.9 C624.4 49.4 625.1 50.0 625.7 50.6 C626.4 51.2 627.0 51.8 627.7 52.4 C628.4 53.1 629.0 53.7 629.7 54.4 C630.4 55.1 631.0 55.7 631.7 56.4 C632.3 57.1 633.0 57.8 633.7 58.5 C634.3 59.1 635.0 59.8 635.7 60.5 C636.3 61.1 637.0 61.7 637.6 62.3 C638.3 62.9 639.0 63.5 639.6 64.0 C640.3 64.6 641.0 65.1 641.6 65.6 C642.3 66.0 642.9 66.4 643.6 66.9 C644.3 67.3 644.9 67.6 645.6 68.0 C646.3 68.3 646.9 68.6 647.6 68.9 C648.3 69.2 648.9 69.4 649.6 69.7 C650.2 69.9 650.9 70.1 651.6 70.3 C652.2 70.5 652.9 70.7 653.6 70.9 C654.2 71.0 654.9 71.2 655.5 71.3 C656.2 71.4 656.9 71.5 657.5 71.6 C658.2 71.8 658.9 71.9 659.5 72.0 C660.2 72.0 660.8 72.1 661.5 72.2 C662.2 72.3 662.8 72.4 663.5 72.5 C664.2 72.6 664.8 72.6 665.5 72.7 C666.1 72.8 666.8 72.9 667.5 72.9 C668.1 73.0 668.8 73.0 669.5 73.1 C670.1 73.2 670.8 73.2 671.4 73.3 C672.1 73.3 672.8 73.4 673.4 73.5 C674.1 73.5 674.8 73.6 675.4 73.6 C676.1 73.7 676.7 73.7 677.4 73.8 C678.1 73.8 679.1 73.9 679.4 73.9" fill="none" stroke="#7d60a0" stroke-width="3.0" stroke-linejoin="round" stroke-linecap="round"/>
<path d="M409.0 105.4 C409.3 105.4 410.3 105.4 411.0 105.4 C411.7 105.4 412.3 105.4 413.0 105.4 C413.6 105.5 414.3 105.5 415.0 105.5 C415.6 105.6 416.3 105.6 417.0 105.7 C417.6 105.8 418.3 105.9 418.9 106.0 C419.6 106.2 420.3 106.3 420.9 106.6 C421.6 106.8 422.3 107.1 422.9 107.5 C423.6 107.9 424.2 108.3 424.9 108.8 C425.6 109.3 426.2 109.9 426.9 110.6 C427.6 111.3 428.2 112.0 428.9 112.9 C429.5 113.8 430.2 114.7 430.9 115.7 C431.5 116.7 432.2 117.9 432.9 119.0 C433.5 120.2 434.2 121.4 434.8 122.6 C435.5 123.9 436.2 125.1 436.8 126.4 C437.5 127.6 438.2 128.9 438.8 130.1 C439.5 131.4 440.1 132.6 440.8 133.7 C441.5 134.8 442.1 135.9 442.8 137.0 C443.5 138.0 444.1 139.0 444.8 139.9 C445.5 140.8 446.1 141.6 446.8 142.4 C447.4 143.2 448.1 144.0 448.8 144.7 C449.4 145.4 450.1 146.0 450.8 146.6 C451.4 147.2 452.1 147.8 452.7 148.3 C453.4 148.9 454.1 149.3 454.7 149.8 C455.4 150.3 456.1 150.7 456.7 151.1 C457.4 151.5 458.0 151.8 458.7 152.2 C459.4 152.5 460.0 152.8 460.7 153.0 C461.4 153.3 462.0 153.5 462.7 153.7 C463.3 153.9 464.0 154.1 464.7 154.3 C465.3 154.4 466.0 154.5 466.7 154.6 C467.3 154.6 468.0 154.7 468.6 154.7 C469.3 154.7 470.0 154.7 470.6 154.6 C471.3 154.5 472.0 154.4 472.6 154.3 C473.3 154.2 473.9 154.0 474.6 153.8 C475.3 153.7 475.9 153.4 476.6 153.2 C477.3 153.0 477.9 152.7 478.6 152.4 C479.3 152.1 479.9 151.8 480.6 151.4 C481.2 151.1 481.9 150.7 482.6 150.4 C483.2 150.0 483.9 149.6 484.6 149.2 C485.2 148.8 485.9 148.4 486.5 148.0 C487.2 147.5 487.9 147.1 488.5 146.7 C489.2 146.2 489.9 145.8 490.5 145.3 C491.2 144.8 491.8 144.3 492.5 143.7 C493.2 143.2 493.8 142.6 494.5 142.1 C495.2 141.5 495.8 140.9 496.5 140.2 C497.1 139.6 497.8 138.9 498.5 138.3 C499.1 137.6 499.8 136.9 500.5 136.2 C501.1 135.4 501.8 134.7 502.4 133.9 C503.1 133.2 503.8 132.4 504.4 131.6 C505.1 130.8 505.8 130.0 506.4 129.2 C507.1 128.4 507.7 127.6 508.4 126.8 C509.1 125.9 509.7 125.1 510.4 124.2 C511.1 123.4 511.7 122.5 512.4 121.7 C513.1 120.8 513.7 119.9 514.4 119.1 C515.0 118.2 515.7 117.3 516.4 116.5 C517.0 115.7 517.7 114.9 518.4 114.2 C519.0 113.5 519.7 112.8 520.3 112.2 C521.0 111.6 521.7 111.0 522.3 110.6 C523.0 110.1 523.7 109.7 524.3 109.4 C525.0 109.0 525.6 108.8 526.3 108.5 C527.0 108.3 527.6 108.2 528.3 108.0 C529.0 107.9 529.6 107.8 530.3 107.7 C530.9 107.6 531.6 107.5 532.3 107.5 C532.9 107.4 533.6 107.4 534.3 107.3 C534.9 107.3 535.6 107.2 536.2 107.2 C536.9 107.2 537.6 107.2 538.2 107.1 C538.9 107.1 539.6 107.1 540.2 107.1 C540.9 107.1 541.5 107.1 542.2 107.0 C542.9 107.0 543.5 107.0 544.2 107.0 C544.9 107.0 545.5 106.9 546.2 106.9 C546.9 106.9 547.5 106.9 548.2 106.9 C548.8 106.9 549.5 106.8 550.2 106.8 C550.8 106.8 551.5 106.8 552.2 106.8 C552.8 106.7 553.5 106.7 554.1 106.7 C554.8 106.7 555.5 106.7 556.1 106.6 C556.8 106.6 557.5 106.6 558.1 106.6 C558.8 106.5 559.4 106.5 560.1 106.5 C560.8 106.4 561.4 106.4 562.1 106.4 C562.8 106.3 563.4 106.3 564.1 106.2 C564.7 106.1 565.4 106.1 566.1 106.0 C566.7 105.9 567.4 105.8 568.1 105.7 C568.7 105.6 569.4 105.5 570.0 105.4 C570.7 105.3 571.4 105.2 572.0 105.0 C572.7 104.9 573.4 104.8 574.0 104.6 C574.7 104.5 575.3 104.3 576.0 104.1 C576.7 104.0 577.3 103.8 578.0 103.6 C578.7 103.4 579.3 103.3 580.0 103.1 C580.7 103.0 581.3 102.8 582.0 102.7 C582.6 102.5 583.3 102.4 584.0 102.2 C584.6 102.1 585.3 102.0 586.0 101.9 C586.6 101.8 587.3 101.7 587.9 101.6 C588.6 101.5 589.3 101.4 589.9 101.3 C590.6 101.2 591.3 101.2 591.9 101.1 C592.6 101.0 593.2 101.0 593.9 100.9 C594.6 100.9 595.2 100.8 595.9 100.8 C596.6 100.8 597.2 100.7 597.9 100.7 C598.5 100.7 599.2 100.7 599.9 100.6 C600.5 100.6 601.2 100.6 601.9 100.6 C602.5 100.6 603.2 100.6 603.8 100.6 C604.5 100.6 605.2 100.7 605.8 100.7 C606.5 100.7 607.2 100.7 607.8 100.7 C608.5 100.7 609.1 100.8 609.8 100.8 C610.5 100.8 611.1 100.9 611.8 100.9 C612.5 100.9 613.1 101.0 613.8 101.0 C614.5 101.1 615.1 101.2 615.8 101.2 C616.4 101.3 617.1 101.4 617.8 101.4 C618.4 101.5 619.1 101.6 619.8 101.7 C620.4 101.8 621.1 101.9 621.7 102.0 C622.4 102.1 623.1 102.2 623.7 102.3 C624.4 102.5 625.1 102.6 625.7 102.7 C626.4 102.8 627.0 102.9 627.7 103.0 C628.4 103.1 629.0 103.1 629.7 103.2 C630.4 103.3 631.0 103.4 631.7 103.4 C632.3 103.5 633.0 103.5 633.7 103.6 C634.3 103.6 635.0 103.7 635.7 103.7 C636.3 103.8 637.0 103.8 637.6 103.8 C638.3 103.9 639.0 103.9 639.6 103.9 C640.3 103.9 641.0 103.9 641.6 104.0 C642.3 104.0 642.9 104.0 643.6 104.0 C644.3 104.1 644.9 104.1 645.6 104.1 C646.3 104.1 646.9 104.1 647.6 104.2 C648.3 104.2 648.9 104.2 649.6 104.2 C650.2 104.2 650.9 104.3 651.6 104.3 C652.2 104.3 652.9 104.3 653.6 104.4 C654.2 104.4 654.9 104.4 655.5 104.4 C656.2 104.5 656.9 104.5 657.5 104.5 C658.2 104.5 658.9 104.6 659.5 104.6 C660.2 104.6 660.8 104.7 661.5 104.7 C662.2 104.7 662.8 104.8 663.5 104.8 C664.2 104.8 664.8 104.8 665.5 104.9 C666.1 104.9 666.8 104.9 667.5 105.0 C668.1 105.0 668.8 105.0 669.5 105.1 C670.1 105.1 670.8 105.1 671.4 105.2 C672.1 105.2 672.8 105.2 673.4 105.3 C674.1 105.3 674.8 105.4 675.4 105.4 C676.1 105.4 676.7 105.5 677.4 105.5 C678.1 105.5 679.1 105.6 679.4 105.6" fill="none" stroke="#98b954" stroke-width="3.0" stroke-linejoin="round" stroke-linecap="round"/>
<path d="M409.0 167.7 C409.3 168.2 410.3 169.5 411.0 170.5 C411.7 171.4 412.3 172.3 413.0 173.2 C413.6 174.1 414.3 175.0 415.0 175.9 C415.6 176.8 416.3 177.7 417.0 178.6 C417.6 179.5 418.3 180.4 418.9 181.2 C419.6 182.1 420.3 182.9 420.9 183.7 C421.6 184.5 422.3 185.3 422.9 186.1 C423.6 186.8 424.2 187.5 424.9 188.2 C425.6 188.9 426.2 189.5 426.9 190.2 C427.6 190.8 428.2 191.4 428.9 192.0 C429.5 192.5 430.2 193.1 430.9 193.6 C431.5 194.1 432.2 194.6 432.9 195.1 C433.5 195.6 434.2 196.0 434.8 196.5 C435.5 196.9 436.2 197.3 436.8 197.7 C437.5 198.2 438.2 198.5 438.8 198.9 C439.5 199.3 440.1 199.6 440.8 199.9 C441.5 200.2 442.1 200.5 442.8 200.8 C443.5 201.1 444.1 201.3 444.8 201.5 C445.5 201.8 446.1 202.0 446.8 202.2 C447.4 202.3 448.1 202.5 448.8 202.7 C449.4 202.8 450.1 202.9 450.8 203.0 C451.4 203.1 452.1 203.2 452.7 203.3 C453.4 203.4 454.1 203.4 454.7 203.5 C455.4 203.5 456.1 203.6 456.7 203.6 C457.4 203.6 458.0 203.6 458.7 203.6 C459.4 203.6 460.0 203.6 460.7 203.5 C461.4 203.5 462.0 203.4 462.7 203.4 C463.3 203.3 464.0 203.3 464.7 203.2 C465.3 203.1 466.0 203.0 466.7 202.9 C467.3 202.8 468.0 202.7 468.6 202.5 C469.3 202.4 470.0 202.2 470.6 202.0 C471.3 201.9 472.0 201.7 472.6 201.5 C473.3 201.2 473.9 201.0 474.6 200.7 C475.3 200.5 475.9 200.1 476.6 199.8 C477.3 199.4 477.9 199.0 478.6 198.6 C479.3 198.2 479.9 197.7 480.6 197.2 C481.2 196.8 481.9 196.3 482.6 195.7 C483.2 195.2 483.9 194.7 484.6 194.2 C485.2 193.6 485.9 193.0 486.5 192.5 C487.2 191.9 487.9 191.3 488.5 190.7 C489.2 190.1 489.9 189.5 490.5 188.8 C491.2 188.2 491.8 187.6 492.5 186.9 C493.2 186.2 493.8 185.6 494.5 184.9 C495.2 184.2 495.8 183.4 496.5 182.7 C497.1 182.0 497.8 181.2 498.5 180.5 C499.1 179.7 499.8 178.9 500.5 178.2 C501.1 177.4 501.8 176.6 502.4 175.7 C503.1 174.9 503.8 174.1 504.4 173.3 C505.1 172.4 505.8 171.6 506.4 170.7 C507.1 169.9 507.7 169.1 508.4 168.2 C509.1 167.4 509.7 166.5 510.4 165.7 C511.1 164.8 511.7 164.0 512.4 163.2 C513.1 162.3 513.7 161.5 514.4 160.6 C515.0 159.8 515.7 158.9 516.4 158.1 C517.0 157.3 517.7 156.5 518.4 155.7 C519.0 154.9 519.7 154.1 520.3 153.3 C521.0 152.6 521.7 151.8 522.3 151.1 C523.0 150.4 523.7 149.7 524.3 149.0 C525.0 148.4 525.6 147.8 526.3 147.2 C527.0 146.6 527.6 146.1 528.3 145.6 C529.0 145.1 529.6 144.7 530.3 144.3 C530.9 143.9 531.6 143.5 532.3 143.2 C532.9 142.9 533.6 142.6 534.3 142.4 C534.9 142.2 535.6 142.0 536.2 141.8 C536.9 141.7 537.6 141.5 538.2 141.4 C538.9 141.3 539.6 141.2 540.2 141.0 C540.9 140.9 541.5 140.8 542.2 140.7 C542.9 140.6 543.5 140.5 544.2 140.4 C544.9 140.3 545.5 140.2 546.2 140.1 C546.9 140.0 547.5 139.9 548.2 139.8 C548.8 139.7 549.5 139.6 550.2 139.5 C550.8 139.4 551.5 139.3 552.2 139.3 C552.8 139.2 553.5 139.1 554.1 139.0 C554.8 138.9 555.5 138.9 556.1 138.8 C556.8 138.7 557.5 138.7 558.1 138.6 C558.8 138.5 559.4 138.5 560.1 138.4 C560.8 138.3 561.4 138.3 562.1 138.2 C562.8 138.2 563.4 138.1 564.1 138.0 C564.7 138.0 565.4 137.9 566.1 137.8 C566.7 137.8 567.4 137.7 568.1 137.6 C568.7 137.6 569.4 137.5 570.0 137.4 C570.7 137.4 571.4 137.3 572.0 137.2 C572.7 137.2 573.4 137.1 574.0 137.0 C574.7 137.0 575.3 136.9 576.0 136.9 C576.7 136.8 577.3 136.7 578.0 136.7 C578.7 136.6 579.3 136.5 580.0 136.5 C580.7 136.4 581.3 136.4 582.0 136.3 C582.6 136.2 583.3 136.2 584.0 136.1 C584.6 136.0 585.3 136.0 586.0 135.9 C586.6 135.9 587.3 135.8 587.9 135.8 C588.6 135.7 589.3 135.6 589.9 135.6 C590.6 135.5 591.3 135.5 591.9 135.4 C592.6 135.4 593.2 135.3 593.9 135.3 C594.6 135.2 595.2 135.2 595.9 135.1 C596.6 135.1 597.2 135.1 597.9 135.0 C598.5 135.0 599.2 135.0 599.9 134.9 C600.5 134.9 601.2 134.9 601.9 134.8 C602.5 134.8 603.2 134.8 603.8 134.7 C604.5 134.7 605.2 134.7 605.8 134.7 C606.5 134.7 607.2 134.7 607.8 134.6 C608.5 134.6 609.1 134.6 609.8 134.6 C610.5 134.6 611.1 134.6 611.8 134.6 C612.5 134.6 613.1 134.6 613.8 134.6 C614.5 134.6 615.1 134.6 615.8 134.6 C616.4 134.6 617.1 134.6 617.8 134.6 C618.4 134.6 619.1 134.6 619.8 134.6 C620.4 134.7 621.1 134.7 621.7 134.7 C622.4 134.7 623.1 134.7 623.7 134.7 C624.4 134.7 625.1 134.8 625.7 134.8 C626.4 134.8 627.0 134.8 627.7 134.8 C628.4 134.9 629.0 134.9 629.7 134.9 C630.4 134.9 631.0 135.0 631.7 135.0 C632.3 135.0 633.0 135.1 633.7 135.1 C634.3 135.1 635.0 135.2 635.7 135.2 C636.3 135.3 637.0 135.3 637.6 135.3 C638.3 135.4 639.0 135.5 639.6 135.5 C640.3 135.6 641.0 135.6 641.6 135.7 C642.3 135.8 642.9 135.9 643.6 136.0 C644.3 136.1 644.9 136.3 645.6 136.4 C646.3 136.5 646.9 136.7 647.6 136.9 C648.3 137.0 648.9 137.2 649.6 137.5 C650.2 137.7 650.9 137.9 651.6 138.2 C652.2 138.4 652.9 138.7 653.6 139.0 C654.2 139.2 654.9 139.5 655.5 139.8 C656.2 140.1 656.9 140.4 657.5 140.7 C658.2 141.1 658.9 141.4 659.5 141.7 C660.2 142.1 660.8 142.4 661.5 142.8 C662.2 143.2 662.8 143.6 663.5 144.1 C664.2 144.6 664.8 145.1 665.5 145.8 C666.1 146.4 666.8 147.1 667.5 147.9 C668.1 148.6 668.8 149.5 669.5 150.4 C670.1 151.4 670.8 152.4 671.4 153.5 C672.1 154.5 672.8 155.7 673.4 156.9 C674.1 158.0 674.8 159.3 675.4 160.5 C676.1 161.8 676.7 163.1 677.4 164.5 C678.1 165.8 679.1 167.8 679.4 168.5" fill="none" stroke="#be4b48" stroke-width="3.0" stroke-linejoin="round" stroke-linecap="round"/>
<path d="M409.0 230.1 C409.3 230.4 410.3 231.1 411.0 231.5 C411.7 232.0 412.3 232.5 413.0 232.9 C413.6 233.4 414.3 233.8 415.0 234.3 C415.6 234.7 416.3 235.2 417.0 235.6 C417.6 236.0 418.3 236.4 418.9 236.8 C419.6 237.2 420.3 237.6 420.9 238.0 C421.6 238.4 422.3 238.8 422.9 239.1 C423.6 239.5 424.2 239.8 424.9 240.2 C425.6 240.5 426.2 240.8 426.9 241.2 C427.6 241.5 428.2 241.8 428.9 242.1 C429.5 242.4 430.2 242.7 430.9 243.0 C431.5 243.2 432.2 243.5 432.9 243.8 C433.5 244.0 434.2 244.3 434.8 244.5 C435.5 244.8 436.2 245.0 436.8 245.2 C437.5 245.4 438.2 245.7 438.8 245.9 C439.5 246.1 440.1 246.3 440.8 246.4 C441.5 246.6 442.1 246.8 442.8 247.0 C443.5 247.1 444.1 247.3 444.8 247.4 C445.5 247.6 446.1 247.7 446.8 247.8 C447.4 247.9 448.1 248.0 448.8 248.1 C449.4 248.2 450.1 248.3 450.8 248.4 C451.4 248.5 452.1 248.6 452.7 248.6 C453.4 248.7 454.1 248.7 454.7 248.7 C455.4 248.8 456.1 248.8 456.7 248.8 C457.4 248.8 458.0 248.8 458.7 248.7 C459.4 248.7 460.0 248.7 460.7 248.6 C461.4 248.6 462.0 248.5 462.7 248.5 C463.3 248.4 464.0 248.3 464.7 248.3 C465.3 248.2 466.0 248.1 466.7 248.0 C467.3 247.9 468.0 247.8 468.6 247.6 C469.3 247.5 470.0 247.4 470.6 247.2 C471.3 247.0 472.0 246.8 472.6 246.6 C473.3 246.3 473.9 246.1 474.6 245.8 C475.3 245.5 475.9 245.1 476.6 244.8 C477.3 244.4 477.9 244.0 478.6 243.6 C479.3 243.2 479.9 242.7 480.6 242.3 C481.2 241.8 481.9 241.2 482.6 240.7 C483.2 240.2 483.9 239.6 484.6 239.0 C485.2 238.4 485.9 237.8 486.5 237.2 C487.2 236.5 487.9 235.9 488.5 235.2 C489.2 234.6 489.9 233.9 490.5 233.2 C491.2 232.6 491.8 231.9 492.5 231.2 C493.2 230.5 493.8 229.8 494.5 229.1 C495.2 228.4 495.8 227.7 496.5 227.0 C497.1 226.2 497.8 225.5 498.5 224.8 C499.1 224.0 499.8 223.3 500.5 222.5 C501.1 221.8 501.8 221.0 502.4 220.2 C503.1 219.5 503.8 218.7 504.4 217.9 C505.1 217.1 505.8 216.3 506.4 215.5 C507.1 214.7 507.7 213.8 508.4 213.0 C509.1 212.2 509.7 211.4 510.4 210.5 C511.1 209.7 511.7 208.9 512.4 208.1 C513.1 207.2 513.7 206.4 514.4 205.6 C515.0 204.8 515.7 204.0 516.4 203.3 C517.0 202.5 517.7 201.7 518.4 201.0 C519.0 200.2 519.7 199.5 520.3 198.7 C521.0 198.0 521.7 197.2 522.3 196.5 C523.0 195.7 523.7 195.0 524.3 194.2 C525.0 193.4 525.6 192.6 526.3 191.9 C527.0 191.1 527.6 190.3 528.3 189.5 C529.0 188.7 529.6 188.0 530.3 187.2 C530.9 186.5 531.6 185.7 532.3 185.0 C532.9 184.4 533.6 183.7 534.3 183.1 C534.9 182.4 535.6 181.8 536.2 181.3 C536.9 180.8 537.6 180.3 538.2 179.8 C538.9 179.4 539.6 179.0 540.2 178.6 C540.9 178.3 541.5 178.0 542.2 177.7 C542.9 177.5 543.5 177.3 544.2 177.1 C544.9 176.9 545.5 176.8 546.2 176.6 C546.9 176.5 547.5 176.4 548.2 176.3 C548.8 176.2 549.5 176.1 550.2 176.0 C550.8 175.9 551.5 175.9 552.2 175.8 C552.8 175.7 553.5 175.7 554.1 175.6 C554.8 175.6 555.5 175.5 556.1 175.4 C556.8 175.4 557.5 175.3 558.1 175.2 C558.8 175.2 559.4 175.1 560.1 175.0 C560.8 175.0 561.4 174.9 562.1 174.8 C562.8 174.7 563.4 174.6 564.1 174.5 C564.7 174.5 565.4 174.4 566.1 174.3 C566.7 174.2 567.4 174.1 568.1 174.0 C568.7 173.9 569.4 173.9 570.0 173.8 C570.7 173.7 571.4 173.6 572.0 173.5 C572.7 173.4 573.4 173.4 574.0 173.3 C574.7 173.2 575.3 173.1 576.0 173.1 C576.7 173.0 577.3 172.9 578.0 172.9 C578.7 172.8 579.3 172.7 580.0 172.7 C580.7 172.6 581.3 172.5 582.0 172.5 C582.6 172.4 583.3 172.4 584.0 172.3 C584.6 172.3 585.3 172.2 586.0 172.2 C586.6 172.1 587.3 172.1 587.9 172.0 C588.6 171.9 589.3 171.9 589.9 171.8 C590.6 171.8 591.3 171.7 591.9 171.7 C592.6 171.6 593.2 171.6 593.9 171.5 C594.6 171.5 595.2 171.5 595.9 171.4 C596.6 171.4 597.2 171.3 597.9 171.3 C598.5 171.2 599.2 171.2 599.9 171.2 C600.5 171.1 601.2 171.1 601.9 171.1 C602.5 171.0 603.2 171.0 603.8 171.0 C604.5 171.0 605.2 170.9 605.8 170.9 C606.5 170.9 607.2 170.9 607.8 170.9 C608.5 170.9 609.1 170.9 609.8 170.9 C610.5 170.9 611.1 170.9 611.8 170.9 C612.5 170.9 613.1 170.9 613.8 170.9 C614.5 170.9 615.1 170.9 615.8 171.0 C616.4 171.0 617.1 171.0 617.8 171.0 C618.4 171.0 619.1 171.1 619.8 171.1 C620.4 171.1 621.1 171.1 621.7 171.2 C622.4 171.2 623.1 171.2 623.7 171.2 C624.4 171.3 625.1 171.3 625.7 171.4 C626.4 171.4 627.0 171.4 627.7 171.5 C628.4 171.6 629.0 171.7 629.7 171.8 C630.4 171.9 631.0 172.0 631.7 172.2 C632.3 172.3 633.0 172.5 633.7 172.7 C634.3 172.9 635.0 173.2 635.7 173.5 C636.3 173.7 637.0 174.1 637.6 174.4 C638.3 174.8 639.0 175.2 639.6 175.6 C640.3 176.1 641.0 176.6 641.6 177.1 C642.3 177.6 642.9 178.2 643.6 178.8 C644.3 179.4 644.9 180.0 645.6 180.7 C646.3 181.4 646.9 182.2 647.6 183.0 C648.3 183.9 648.9 184.8 649.6 185.7 C650.2 186.7 650.9 187.7 651.6 188.8 C652.2 189.9 652.9 191.0 653.6 192.2 C654.2 193.3 654.9 194.5 655.5 195.7 C656.2 196.8 656.9 198.0 657.5 199.1 C658.2 200.3 658.9 201.4 659.5 202.5 C660.2 203.5 660.8 204.6 661.5 205.6 C662.2 206.6 662.8 207.6 663.5 208.6 C664.2 209.5 664.8 210.5 665.5 211.4 C666.1 212.3 666.8 213.3 667.5 214.2 C668.1 215.1 668.8 216.0 669.5 216.9 C670.1 217.8 670.8 218.7 671.4 219.6 C672.1 220.4 672.8 221.3 673.4 222.2 C674.1 223.0 674.8 223.9 675.4 224.8 C676.1 225.6 676.7 226.5 677.4 227.3 C678.1 228.1 679.1 229.4 679.4 229.8" fill="none" stroke="#4a7ebb" stroke-width="3.0" stroke-linejoin="round" stroke-linecap="round"/>
<line x1="409.00" y1="35.60" x2="409.00" y2="267.30" stroke="#aaaaaa" stroke-width="2.4"/>
<line x1="409.00" y1="266.30" x2="680.40" y2="266.30" stroke="#aaaaaa" stroke-width="2.4"/>
<line x1="405.00" y1="266.30" x2="409.00" y2="266.30" stroke="#777" stroke-width="0.8"/>
<line x1="405.00" y1="220.36" x2="409.00" y2="220.36" stroke="#777" stroke-width="0.8"/>
<line x1="405.00" y1="174.42" x2="409.00" y2="174.42" stroke="#777" stroke-width="0.8"/>
<line x1="405.00" y1="128.48" x2="409.00" y2="128.48" stroke="#777" stroke-width="0.8"/>
<line x1="405.00" y1="82.54" x2="409.00" y2="82.54" stroke="#777" stroke-width="0.8"/>
<line x1="405.00" y1="36.60" x2="409.00" y2="36.60" stroke="#777" stroke-width="0.8"/>
<line x1="454.07" y1="262.30" x2="454.07" y2="266.30" stroke="#999" stroke-width="1"/>
<line x1="499.13" y1="262.30" x2="499.13" y2="266.30" stroke="#999" stroke-width="1"/>
<line x1="544.20" y1="262.30" x2="544.20" y2="266.30" stroke="#999" stroke-width="1"/>
<line x1="589.27" y1="262.30" x2="589.27" y2="266.30" stroke="#999" stroke-width="1"/>
<line x1="634.33" y1="262.30" x2="634.33" y2="266.30" stroke="#999" stroke-width="1"/>
<text x="397.80" y="271.70" text-anchor="end" class="t" style="font-size:12.3px">-4</text>
<text x="397.80" y="225.76" text-anchor="end" class="t" style="font-size:12.3px">0</text>
<text x="397.80" y="179.82" text-anchor="end" class="t" style="font-size:12.3px">4</text>
<text x="397.80" y="133.88" text-anchor="end" class="t" style="font-size:12.3px">8</text>
<text x="397.80" y="87.94" text-anchor="end" class="t" style="font-size:12.3px">12</text>
<text x="397.80" y="42.00" text-anchor="end" class="t" style="font-size:12.3px">16</text>
<text x="409.00" y="285.10" text-anchor="middle" class="t">0</text>
<text x="454.07" y="285.10" text-anchor="middle" class="t">4</text>
<text x="499.13" y="285.10" text-anchor="middle" class="t">8</text>
<text x="544.20" y="285.10" text-anchor="middle" class="t">12</text>
<text x="589.27" y="285.10" text-anchor="middle" class="t">16</text>
<text x="634.33" y="285.10" text-anchor="middle" class="t">20</text>
<text x="679.40" y="285.10" text-anchor="middle" class="t">24</text>
<text x="511.50" y="300.60" class="t" style="font-size:12.4px">Time (h)</text>
<text transform="translate(372.10 168.80) rotate(-90)" class="t">T<tspan font-size="7.5" dy="2">is</tspan><tspan dy="-2"> (°C)</tspan></text>
<line x1="430.00" y1="5.30" x2="460.00" y2="5.30" stroke="#4a7ebb" stroke-width="2.8" stroke-linecap="round"/>
<text x="463.40" y="8.80" class="t" style="font-size:12.65px">P = 0 W/m²</text>
<line x1="555.50" y1="5.30" x2="585.50" y2="5.30" stroke="#be4b48" stroke-width="2.8" stroke-linecap="round"/>
<text x="588.90" y="8.80" class="t" style="font-size:12.65px">P = 100 W/m²</text>
<line x1="430.00" y1="23.60" x2="460.00" y2="23.60" stroke="#98b954" stroke-width="2.8" stroke-linecap="round"/>
<text x="463.40" y="27.10" class="t" style="font-size:12.65px">P =200 W/m²</text>
<line x1="555.50" y1="23.60" x2="585.50" y2="23.60" stroke="#7d60a0" stroke-width="2.8" stroke-linecap="round"/>
<text x="588.90" y="27.10" class="t" style="font-size:12.65px">P = 300 W/m²</text>
<text x="474.30" y="335.00" class="cap">(b)<tspan dx="7.4">T</tspan><tspan font-size="12" dy="2.4">min</tspan><tspan dy="-2.4"> = -10 °C</tspan></text>
<line x1="90.78" y1="408.00" x2="90.78" y2="637.90" stroke="#dcdcdc" stroke-width="1.4"/>
<line x1="135.87" y1="408.00" x2="135.87" y2="637.90" stroke="#dcdcdc" stroke-width="1.4"/>
<line x1="180.95" y1="408.00" x2="180.95" y2="637.90" stroke="#dcdcdc" stroke-width="1.4"/>
<line x1="226.03" y1="408.00" x2="226.03" y2="637.90" stroke="#dcdcdc" stroke-width="1.4"/>
<line x1="271.12" y1="408.00" x2="271.12" y2="637.90" stroke="#dcdcdc" stroke-width="1.4"/>
<line x1="45.70" y1="599.58" x2="316.20" y2="599.58" stroke="#dcdcdc" stroke-width="1.4"/>
<line x1="45.70" y1="561.27" x2="316.20" y2="561.27" stroke="#dcdcdc" stroke-width="1.4"/>
<line x1="45.70" y1="522.95" x2="316.20" y2="522.95" stroke="#dcdcdc" stroke-width="1.4"/>
<line x1="45.70" y1="484.63" x2="316.20" y2="484.63" stroke="#dcdcdc" stroke-width="1.4"/>
<line x1="45.70" y1="446.32" x2="316.20" y2="446.32" stroke="#dcdcdc" stroke-width="1.4"/>
<line x1="45.70" y1="408.00" x2="317.20" y2="408.00" stroke="#aaaaaa" stroke-width="2.2"/>
<line x1="316.20" y1="408.00" x2="316.20" y2="637.90" stroke="#d0d0d0" stroke-width="2"/>
<path d="M45.7 465.0 C46.0 465.0 47.0 465.0 47.7 465.0 C48.4 465.1 49.0 465.1 49.7 465.2 C50.3 465.2 51.0 465.3 51.7 465.4 C52.3 465.5 53.0 465.6 53.7 465.8 C54.3 465.9 55.0 466.1 55.6 466.3 C56.3 466.5 57.0 466.8 57.6 467.1 C58.3 467.4 59.0 467.7 59.6 468.1 C60.3 468.5 60.9 468.9 61.6 469.4 C62.3 469.8 62.9 470.3 63.6 470.9 C64.3 471.4 64.9 472.0 65.6 472.6 C66.3 473.3 66.9 474.0 67.6 474.7 C68.2 475.4 68.9 476.2 69.6 476.9 C70.2 477.7 70.9 478.6 71.6 479.4 C72.2 480.3 72.9 481.2 73.5 482.0 C74.2 482.9 74.9 483.8 75.5 484.6 C76.2 485.5 76.9 486.3 77.5 487.1 C78.2 487.9 78.8 488.7 79.5 489.5 C80.2 490.2 80.8 491.0 81.5 491.7 C82.2 492.3 82.8 493.0 83.5 493.6 C84.2 494.2 84.8 494.7 85.5 495.3 C86.1 495.8 86.8 496.2 87.5 496.7 C88.1 497.1 88.8 497.5 89.5 497.9 C90.1 498.3 90.8 498.7 91.4 499.0 C92.1 499.4 92.8 499.7 93.4 500.0 C94.1 500.3 94.8 500.6 95.4 500.9 C96.1 501.2 96.8 501.4 97.4 501.7 C98.1 501.9 98.7 502.1 99.4 502.3 C100.1 502.4 100.7 502.6 101.4 502.7 C102.1 502.9 102.7 503.0 103.4 503.1 C104.0 503.1 104.7 503.2 105.4 503.2 C106.0 503.3 106.7 503.3 107.4 503.3 C108.0 503.3 108.7 503.3 109.3 503.2 C110.0 503.1 110.7 503.0 111.3 502.8 C112.0 502.7 112.7 502.5 113.3 502.2 C114.0 502.0 114.7 501.7 115.3 501.5 C116.0 501.2 116.6 500.8 117.3 500.5 C118.0 500.2 118.6 499.8 119.3 499.4 C120.0 499.0 120.6 498.6 121.3 498.2 C121.9 497.8 122.6 497.4 123.3 496.9 C123.9 496.5 124.6 496.0 125.3 495.5 C125.9 495.1 126.6 494.6 127.2 494.1 C127.9 493.6 128.6 493.0 129.2 492.5 C129.9 492.0 130.6 491.4 131.2 490.9 C131.9 490.3 132.6 489.7 133.2 489.1 C133.9 488.5 134.5 487.9 135.2 487.3 C135.9 486.7 136.5 486.1 137.2 485.5 C137.9 484.9 138.5 484.3 139.2 483.7 C139.8 483.0 140.5 482.4 141.2 481.8 C141.8 481.2 142.5 480.5 143.2 479.9 C143.8 479.3 144.5 478.6 145.1 478.0 C145.8 477.4 146.5 476.7 147.1 476.1 C147.8 475.5 148.5 474.9 149.1 474.2 C149.8 473.6 150.5 473.0 151.1 472.4 C151.8 471.9 152.4 471.3 153.1 470.8 C153.8 470.3 154.4 469.8 155.1 469.3 C155.8 468.9 156.4 468.5 157.1 468.2 C157.7 467.9 158.4 467.6 159.1 467.4 C159.7 467.1 160.4 467.0 161.1 466.8 C161.7 466.7 162.4 466.6 163.0 466.5 C163.7 466.4 164.4 466.4 165.0 466.3 C165.7 466.3 166.4 466.2 167.0 466.2 C167.7 466.2 168.4 466.2 169.0 466.1 C169.7 466.1 170.3 466.1 171.0 466.1 C171.7 466.1 172.3 466.1 173.0 466.1 C173.7 466.1 174.3 466.1 175.0 466.1 C175.6 466.1 176.3 466.1 177.0 466.1 C177.6 466.1 178.3 466.1 179.0 466.1 C179.6 466.1 180.3 466.1 180.9 466.1 C181.6 466.1 182.3 466.0 182.9 466.0 C183.6 466.0 184.3 466.0 184.9 466.0 C185.6 466.0 186.3 465.9 186.9 465.9 C187.6 465.9 188.2 465.8 188.9 465.8 C189.6 465.8 190.2 465.7 190.9 465.7 C191.6 465.6 192.2 465.6 192.9 465.5 C193.5 465.5 194.2 465.4 194.9 465.4 C195.5 465.3 196.2 465.3 196.9 465.2 C197.5 465.1 198.2 465.1 198.9 465.0 C199.5 464.9 200.2 464.8 200.8 464.7 C201.5 464.6 202.2 464.5 202.8 464.3 C203.5 464.2 204.2 464.1 204.8 463.9 C205.5 463.8 206.1 463.6 206.8 463.4 C207.5 463.2 208.1 463.0 208.8 462.8 C209.5 462.6 210.1 462.4 210.8 462.2 C211.4 461.9 212.1 461.7 212.8 461.5 C213.4 461.3 214.1 461.1 214.8 460.8 C215.4 460.6 216.1 460.4 216.8 460.2 C217.4 460.0 218.1 459.8 218.7 459.6 C219.4 459.3 220.1 459.1 220.7 458.9 C221.4 458.7 222.1 458.5 222.7 458.3 C223.4 458.0 224.0 457.8 224.7 457.6 C225.4 457.4 226.0 457.1 226.7 456.9 C227.4 456.6 228.0 456.4 228.7 456.1 C229.3 455.8 230.0 455.6 230.7 455.2 C231.3 454.9 232.0 454.6 232.7 454.2 C233.3 453.8 234.0 453.4 234.7 453.0 C235.3 452.6 236.0 452.2 236.6 451.8 C237.3 451.4 238.0 451.0 238.6 450.7 C239.3 450.3 240.0 450.0 240.6 449.7 C241.3 449.4 241.9 449.1 242.6 448.8 C243.3 448.6 243.9 448.4 244.6 448.2 C245.3 448.0 245.9 447.9 246.6 447.8 C247.2 447.7 247.9 447.7 248.6 447.7 C249.2 447.7 249.9 447.7 250.6 447.8 C251.2 447.8 251.9 447.9 252.6 448.1 C253.2 448.2 253.9 448.4 254.5 448.6 C255.2 448.9 255.9 449.1 256.5 449.4 C257.2 449.7 257.9 450.0 258.5 450.4 C259.2 450.7 259.8 451.1 260.5 451.5 C261.2 451.9 261.8 452.3 262.5 452.7 C263.2 453.1 263.8 453.6 264.5 454.0 C265.1 454.4 265.8 454.9 266.5 455.3 C267.1 455.7 267.8 456.1 268.5 456.5 C269.1 456.9 269.8 457.3 270.5 457.7 C271.1 458.1 271.8 458.4 272.4 458.7 C273.1 459.1 273.8 459.3 274.4 459.6 C275.1 459.9 275.8 460.1 276.4 460.4 C277.1 460.6 277.7 460.8 278.4 461.0 C279.1 461.1 279.7 461.3 280.4 461.4 C281.1 461.6 281.7 461.7 282.4 461.8 C283.1 461.9 283.7 462.0 284.4 462.1 C285.0 462.2 285.7 462.3 286.4 462.4 C287.0 462.5 287.7 462.5 288.4 462.6 C289.0 462.6 289.7 462.7 290.3 462.7 C291.0 462.8 291.7 462.8 292.3 462.9 C293.0 462.9 293.7 463.0 294.3 463.1 C295.0 463.1 295.6 463.2 296.3 463.2 C297.0 463.3 297.6 463.3 298.3 463.4 C299.0 463.5 299.6 463.5 300.3 463.6 C301.0 463.6 301.6 463.7 302.3 463.8 C302.9 463.8 303.6 463.9 304.3 464.0 C304.9 464.0 305.6 464.1 306.3 464.1 C306.9 464.2 307.6 464.3 308.2 464.3 C308.9 464.4 309.6 464.5 310.2 464.5 C310.9 464.6 311.6 464.7 312.2 464.7 C312.9 464.8 313.5 464.8 314.2 464.9 C314.9 465.0 315.9 465.1 316.2 465.1" fill="none" stroke="#7d60a0" stroke-width="3.0" stroke-linejoin="round" stroke-linecap="round"/>
<path d="M45.7 491.1 C46.0 491.6 47.0 493.0 47.7 493.9 C48.4 494.9 49.0 495.9 49.7 496.9 C50.3 498.0 51.0 499.1 51.7 500.2 C52.3 501.3 53.0 502.5 53.7 503.6 C54.3 504.8 55.0 506.0 55.6 507.1 C56.3 508.2 57.0 509.4 57.6 510.5 C58.3 511.6 59.0 512.6 59.6 513.6 C60.3 514.6 60.9 515.6 61.6 516.5 C62.3 517.4 62.9 518.2 63.6 519.0 C64.3 519.8 64.9 520.5 65.6 521.2 C66.3 521.9 66.9 522.5 67.6 523.1 C68.2 523.7 68.9 524.2 69.6 524.8 C70.2 525.3 70.9 525.8 71.6 526.3 C72.2 526.7 72.9 527.2 73.5 527.6 C74.2 528.0 74.9 528.5 75.5 528.9 C76.2 529.3 76.9 529.7 77.5 530.1 C78.2 530.4 78.8 530.8 79.5 531.2 C80.2 531.5 80.8 531.9 81.5 532.2 C82.2 532.5 82.8 532.8 83.5 533.1 C84.2 533.4 84.8 533.6 85.5 533.9 C86.1 534.1 86.8 534.3 87.5 534.5 C88.1 534.7 88.8 534.9 89.5 535.1 C90.1 535.2 90.8 535.4 91.4 535.5 C92.1 535.6 92.8 535.7 93.4 535.8 C94.1 535.8 94.8 535.9 95.4 535.9 C96.1 536.0 96.8 536.0 97.4 536.0 C98.1 536.0 98.7 536.0 99.4 535.9 C100.1 535.9 100.7 535.9 101.4 535.8 C102.1 535.8 102.7 535.7 103.4 535.6 C104.0 535.5 104.7 535.4 105.4 535.3 C106.0 535.2 106.7 535.0 107.4 534.9 C108.0 534.7 108.7 534.6 109.3 534.4 C110.0 534.2 110.7 534.0 111.3 533.8 C112.0 533.5 112.7 533.3 113.3 533.0 C114.0 532.8 114.7 532.5 115.3 532.2 C116.0 531.9 116.6 531.6 117.3 531.3 C118.0 531.0 118.6 530.6 119.3 530.3 C120.0 529.9 120.6 529.6 121.3 529.2 C121.9 528.9 122.6 528.5 123.3 528.1 C123.9 527.7 124.6 527.3 125.3 526.9 C125.9 526.5 126.6 526.1 127.2 525.7 C127.9 525.3 128.6 524.9 129.2 524.4 C129.9 523.9 130.6 523.5 131.2 523.0 C131.9 522.5 132.6 522.0 133.2 521.4 C133.9 520.9 134.5 520.3 135.2 519.7 C135.9 519.1 136.5 518.4 137.2 517.8 C137.9 517.1 138.5 516.4 139.2 515.7 C139.8 515.0 140.5 514.2 141.2 513.5 C141.8 512.7 142.5 511.9 143.2 511.2 C143.8 510.4 144.5 509.6 145.1 508.9 C145.8 508.1 146.5 507.3 147.1 506.6 C147.8 505.8 148.5 505.1 149.1 504.3 C149.8 503.6 150.5 502.8 151.1 502.1 C151.8 501.4 152.4 500.7 153.1 500.0 C153.8 499.3 154.4 498.6 155.1 497.9 C155.8 497.3 156.4 496.6 157.1 496.0 C157.7 495.4 158.4 494.8 159.1 494.2 C159.7 493.6 160.4 493.0 161.1 492.5 C161.7 491.9 162.4 491.4 163.0 490.9 C163.7 490.4 164.4 490.0 165.0 489.6 C165.7 489.2 166.4 488.8 167.0 488.4 C167.7 488.1 168.4 487.8 169.0 487.5 C169.7 487.2 170.3 487.0 171.0 486.8 C171.7 486.6 172.3 486.5 173.0 486.3 C173.7 486.2 174.3 486.1 175.0 486.0 C175.6 485.9 176.3 485.9 177.0 485.8 C177.6 485.7 178.3 485.7 179.0 485.7 C179.6 485.6 180.3 485.6 180.9 485.6 C181.6 485.5 182.3 485.5 182.9 485.5 C183.6 485.5 184.3 485.4 184.9 485.4 C185.6 485.4 186.3 485.4 186.9 485.3 C187.6 485.3 188.2 485.3 188.9 485.3 C189.6 485.3 190.2 485.3 190.9 485.2 C191.6 485.2 192.2 485.2 192.9 485.2 C193.5 485.2 194.2 485.2 194.9 485.2 C195.5 485.2 196.2 485.2 196.9 485.2 C197.5 485.2 198.2 485.1 198.9 485.1 C199.5 485.1 200.2 485.1 200.8 485.1 C201.5 485.1 202.2 485.1 202.8 485.1 C203.5 485.1 204.2 485.1 204.8 485.1 C205.5 485.1 206.1 485.0 206.8 485.0 C207.5 485.0 208.1 485.0 208.8 484.9 C209.5 484.9 210.1 484.9 210.8 484.8 C211.4 484.7 212.1 484.7 212.8 484.6 C213.4 484.5 214.1 484.5 214.8 484.4 C215.4 484.3 216.1 484.2 216.8 484.1 C217.4 484.0 218.1 483.9 218.7 483.7 C219.4 483.6 220.1 483.5 220.7 483.4 C221.4 483.3 222.1 483.2 222.7 483.1 C223.4 483.0 224.0 482.9 224.7 482.8 C225.4 482.7 226.0 482.6 226.7 482.6 C227.4 482.5 228.0 482.4 228.7 482.4 C229.3 482.3 230.0 482.3 230.7 482.2 C231.3 482.2 232.0 482.1 232.7 482.1 C233.3 482.1 234.0 482.0 234.7 482.0 C235.3 482.0 236.0 482.0 236.6 482.0 C237.3 482.0 238.0 482.0 238.6 482.0 C239.3 482.0 240.0 482.0 240.6 482.0 C241.3 482.0 241.9 482.0 242.6 482.1 C243.3 482.1 243.9 482.1 244.6 482.1 C245.3 482.2 245.9 482.2 246.6 482.3 C247.2 482.3 247.9 482.3 248.6 482.4 C249.2 482.4 249.9 482.5 250.6 482.5 C251.2 482.6 251.9 482.6 252.6 482.7 C253.2 482.7 253.9 482.8 254.5 482.8 C255.2 482.9 255.9 482.9 256.5 482.9 C257.2 483.0 257.9 483.0 258.5 483.1 C259.2 483.1 259.8 483.2 260.5 483.2 C261.2 483.3 261.8 483.3 262.5 483.3 C263.2 483.4 263.8 483.4 264.5 483.5 C265.1 483.5 265.8 483.5 266.5 483.6 C267.1 483.6 267.8 483.7 268.5 483.7 C269.1 483.7 269.8 483.8 270.5 483.8 C271.1 483.8 271.8 483.8 272.4 483.9 C273.1 483.9 273.8 483.9 274.4 483.9 C275.1 484.0 275.8 484.0 276.4 484.0 C277.1 484.0 277.7 484.0 278.4 484.1 C279.1 484.1 279.7 484.1 280.4 484.1 C281.1 484.1 281.7 484.1 282.4 484.1 C283.1 484.1 283.7 484.1 284.4 484.1 C285.0 484.1 285.7 484.1 286.4 484.1 C287.0 484.1 287.7 484.1 288.4 484.1 C289.0 484.1 289.7 484.1 290.3 484.1 C291.0 484.1 291.7 484.1 292.3 484.1 C293.0 484.1 293.7 484.1 294.3 484.1 C295.0 484.1 295.6 484.1 296.3 484.1 C297.0 484.1 297.6 484.1 298.3 484.1 C299.0 484.2 299.6 484.2 300.3 484.3 C301.0 484.4 301.6 484.5 302.3 484.6 C302.9 484.7 303.6 484.9 304.3 485.1 C304.9 485.3 305.6 485.5 306.3 485.8 C306.9 486.1 307.6 486.4 308.2 486.7 C308.9 487.1 309.6 487.5 310.2 487.9 C310.9 488.4 311.6 488.8 312.2 489.3 C312.9 489.8 313.5 490.4 314.2 490.9 C314.9 491.5 315.9 492.3 316.2 492.6" fill="none" stroke="#98b954" stroke-width="3.0" stroke-linejoin="round" stroke-linecap="round"/>
<path d="M45.7 546.6 C46.0 546.8 47.0 547.5 47.7 548.0 C48.4 548.4 49.0 548.9 49.7 549.3 C50.3 549.8 51.0 550.2 51.7 550.6 C52.3 551.1 53.0 551.5 53.7 551.9 C54.3 552.4 55.0 552.8 55.6 553.2 C56.3 553.6 57.0 554.1 57.6 554.5 C58.3 554.9 59.0 555.3 59.6 555.7 C60.3 556.1 60.9 556.5 61.6 556.8 C62.3 557.2 62.9 557.6 63.6 557.9 C64.3 558.3 64.9 558.7 65.6 559.0 C66.3 559.3 66.9 559.7 67.6 560.0 C68.2 560.3 68.9 560.6 69.6 560.9 C70.2 561.2 70.9 561.5 71.6 561.8 C72.2 562.0 72.9 562.3 73.5 562.6 C74.2 562.8 74.9 563.1 75.5 563.3 C76.2 563.6 76.9 563.8 77.5 564.1 C78.2 564.3 78.8 564.5 79.5 564.7 C80.2 564.9 80.8 565.1 81.5 565.3 C82.2 565.5 82.8 565.6 83.5 565.8 C84.2 565.9 84.8 566.0 85.5 566.2 C86.1 566.3 86.8 566.4 87.5 566.4 C88.1 566.5 88.8 566.6 89.5 566.7 C90.1 566.7 90.8 566.7 91.4 566.8 C92.1 566.8 92.8 566.8 93.4 566.8 C94.1 566.8 94.8 566.8 95.4 566.8 C96.1 566.8 96.8 566.8 97.4 566.7 C98.1 566.7 98.7 566.7 99.4 566.6 C100.1 566.6 100.7 566.5 101.4 566.4 C102.1 566.3 102.7 566.2 103.4 566.1 C104.0 566.0 104.7 565.9 105.4 565.8 C106.0 565.6 106.7 565.5 107.4 565.3 C108.0 565.1 108.7 564.9 109.3 564.7 C110.0 564.5 110.7 564.2 111.3 564.0 C112.0 563.7 112.7 563.4 113.3 563.1 C114.0 562.7 114.7 562.4 115.3 562.0 C116.0 561.6 116.6 561.2 117.3 560.8 C118.0 560.4 118.6 559.9 119.3 559.5 C120.0 559.0 120.6 558.5 121.3 558.0 C121.9 557.6 122.6 557.1 123.3 556.6 C123.9 556.1 124.6 555.6 125.3 555.1 C125.9 554.6 126.6 554.1 127.2 553.6 C127.9 553.1 128.6 552.6 129.2 552.1 C129.9 551.6 130.6 551.1 131.2 550.6 C131.9 550.1 132.6 549.6 133.2 549.0 C133.9 548.5 134.5 548.0 135.2 547.5 C135.9 546.9 136.5 546.4 137.2 545.8 C137.9 545.2 138.5 544.6 139.2 544.0 C139.8 543.3 140.5 542.7 141.2 542.0 C141.8 541.3 142.5 540.6 143.2 539.8 C143.8 539.1 144.5 538.4 145.1 537.6 C145.8 536.8 146.5 536.0 147.1 535.3 C147.8 534.5 148.5 533.7 149.1 532.9 C149.8 532.2 150.5 531.4 151.1 530.6 C151.8 529.9 152.4 529.2 153.1 528.5 C153.8 527.7 154.4 527.0 155.1 526.4 C155.8 525.7 156.4 525.1 157.1 524.4 C157.7 523.8 158.4 523.2 159.1 522.5 C159.7 521.9 160.4 521.3 161.1 520.7 C161.7 520.1 162.4 519.5 163.0 518.9 C163.7 518.3 164.4 517.7 165.0 517.1 C165.7 516.5 166.4 515.9 167.0 515.4 C167.7 514.8 168.4 514.3 169.0 513.8 C169.7 513.3 170.3 512.8 171.0 512.4 C171.7 511.9 172.3 511.5 173.0 511.2 C173.7 510.8 174.3 510.5 175.0 510.2 C175.6 510.0 176.3 509.7 177.0 509.5 C177.6 509.3 178.3 509.1 179.0 508.9 C179.6 508.8 180.3 508.6 180.9 508.5 C181.6 508.4 182.3 508.3 182.9 508.2 C183.6 508.1 184.3 508.0 184.9 508.0 C185.6 507.9 186.3 507.8 186.9 507.8 C187.6 507.7 188.2 507.7 188.9 507.6 C189.6 507.6 190.2 507.6 190.9 507.5 C191.6 507.5 192.2 507.4 192.9 507.4 C193.5 507.3 194.2 507.3 194.9 507.3 C195.5 507.2 196.2 507.2 196.9 507.2 C197.5 507.1 198.2 507.1 198.9 507.1 C199.5 507.0 200.2 507.0 200.8 506.9 C201.5 506.9 202.2 506.9 202.8 506.8 C203.5 506.8 204.2 506.8 204.8 506.7 C205.5 506.7 206.1 506.6 206.8 506.6 C207.5 506.6 208.1 506.5 208.8 506.5 C209.5 506.4 210.1 506.4 210.8 506.4 C211.4 506.3 212.1 506.3 212.8 506.2 C213.4 506.2 214.1 506.1 214.8 506.1 C215.4 506.0 216.1 506.0 216.8 505.9 C217.4 505.9 218.1 505.8 218.7 505.8 C219.4 505.7 220.1 505.7 220.7 505.6 C221.4 505.6 222.1 505.5 222.7 505.5 C223.4 505.5 224.0 505.4 224.7 505.4 C225.4 505.3 226.0 505.3 226.7 505.2 C227.4 505.2 228.0 505.1 228.7 505.1 C229.3 505.1 230.0 505.0 230.7 505.0 C231.3 504.9 232.0 504.9 232.7 504.9 C233.3 504.8 234.0 504.8 234.7 504.8 C235.3 504.7 236.0 504.7 236.6 504.7 C237.3 504.6 238.0 504.6 238.6 504.6 C239.3 504.6 240.0 504.5 240.6 504.5 C241.3 504.5 241.9 504.5 242.6 504.4 C243.3 504.4 243.9 504.4 244.6 504.4 C245.3 504.3 245.9 504.3 246.6 504.3 C247.2 504.3 247.9 504.3 248.6 504.3 C249.2 504.2 249.9 504.2 250.6 504.2 C251.2 504.2 251.9 504.2 252.6 504.2 C253.2 504.2 253.9 504.2 254.5 504.1 C255.2 504.1 255.9 504.1 256.5 504.1 C257.2 504.1 257.9 504.1 258.5 504.1 C259.2 504.1 259.8 504.2 260.5 504.2 C261.2 504.2 261.8 504.2 262.5 504.2 C263.2 504.2 263.8 504.3 264.5 504.3 C265.1 504.3 265.8 504.4 266.5 504.4 C267.1 504.5 267.8 504.5 268.5 504.6 C269.1 504.7 269.8 504.7 270.5 504.8 C271.1 504.9 271.8 505.0 272.4 505.1 C273.1 505.2 273.8 505.3 274.4 505.4 C275.1 505.5 275.8 505.6 276.4 505.8 C277.1 505.9 277.7 506.1 278.4 506.3 C279.1 506.5 279.7 506.7 280.4 506.9 C281.1 507.1 281.7 507.3 282.4 507.6 C283.1 507.9 283.7 508.1 284.4 508.5 C285.0 508.8 285.7 509.1 286.4 509.5 C287.0 509.9 287.7 510.3 288.4 510.8 C289.0 511.3 289.7 511.8 290.3 512.4 C291.0 513.0 291.7 513.7 292.3 514.4 C293.0 515.1 293.7 515.9 294.3 516.8 C295.0 517.6 295.6 518.5 296.3 519.4 C297.0 520.4 297.6 521.4 298.3 522.4 C299.0 523.4 299.6 524.5 300.3 525.5 C301.0 526.5 301.6 527.6 302.3 528.6 C302.9 529.6 303.6 530.6 304.3 531.6 C304.9 532.5 305.6 533.5 306.3 534.4 C306.9 535.3 307.6 536.1 308.2 537.0 C308.9 537.8 309.6 538.6 310.2 539.4 C310.9 540.1 311.6 540.9 312.2 541.7 C312.9 542.4 313.5 543.2 314.2 544.0 C314.9 544.7 315.9 545.8 316.2 546.2" fill="none" stroke="#be4b48" stroke-width="3.0" stroke-linejoin="round" stroke-linecap="round"/>
<path d="M45.7 581.4 C46.0 581.5 47.0 581.9 47.7 582.2 C48.4 582.5 49.0 582.8 49.7 583.1 C50.3 583.3 51.0 583.6 51.7 583.9 C52.3 584.2 53.0 584.5 53.7 584.8 C54.3 585.1 55.0 585.5 55.6 585.8 C56.3 586.1 57.0 586.4 57.6 586.8 C58.3 587.1 59.0 587.4 59.6 587.8 C60.3 588.1 60.9 588.4 61.6 588.7 C62.3 589.0 62.9 589.4 63.6 589.7 C64.3 590.0 64.9 590.2 65.6 590.5 C66.3 590.8 66.9 591.1 67.6 591.3 C68.2 591.6 68.9 591.8 69.6 592.0 C70.2 592.3 70.9 592.5 71.6 592.7 C72.2 592.9 72.9 593.1 73.5 593.3 C74.2 593.5 74.9 593.7 75.5 593.9 C76.2 594.1 76.9 594.3 77.5 594.4 C78.2 594.6 78.8 594.8 79.5 594.9 C80.2 595.1 80.8 595.2 81.5 595.4 C82.2 595.5 82.8 595.6 83.5 595.7 C84.2 595.8 84.8 595.9 85.5 596.0 C86.1 596.1 86.8 596.2 87.5 596.2 C88.1 596.3 88.8 596.3 89.5 596.4 C90.1 596.4 90.8 596.4 91.4 596.4 C92.1 596.4 92.8 596.5 93.4 596.4 C94.1 596.4 94.8 596.4 95.4 596.4 C96.1 596.4 96.8 596.4 97.4 596.3 C98.1 596.3 98.7 596.3 99.4 596.2 C100.1 596.1 100.7 596.1 101.4 596.0 C102.1 595.9 102.7 595.8 103.4 595.7 C104.0 595.6 104.7 595.4 105.4 595.3 C106.0 595.2 106.7 595.0 107.4 594.8 C108.0 594.6 108.7 594.4 109.3 594.2 C110.0 594.0 110.7 593.8 111.3 593.5 C112.0 593.2 112.7 593.0 113.3 592.7 C114.0 592.3 114.7 592.0 115.3 591.7 C116.0 591.3 116.6 591.0 117.3 590.6 C118.0 590.2 118.6 589.8 119.3 589.4 C120.0 588.9 120.6 588.5 121.3 588.0 C121.9 587.6 122.6 587.1 123.3 586.7 C123.9 586.2 124.6 585.7 125.3 585.2 C125.9 584.7 126.6 584.2 127.2 583.7 C127.9 583.2 128.6 582.7 129.2 582.2 C129.9 581.6 130.6 581.1 131.2 580.5 C131.9 580.0 132.6 579.4 133.2 578.8 C133.9 578.2 134.5 577.6 135.2 577.0 C135.9 576.4 136.5 575.7 137.2 575.1 C137.9 574.4 138.5 573.8 139.2 573.1 C139.8 572.5 140.5 571.8 141.2 571.2 C141.8 570.5 142.5 569.8 143.2 569.2 C143.8 568.5 144.5 567.8 145.1 567.1 C145.8 566.4 146.5 565.7 147.1 565.1 C147.8 564.4 148.5 563.7 149.1 563.0 C149.8 562.3 150.5 561.6 151.1 560.9 C151.8 560.3 152.4 559.6 153.1 558.9 C153.8 558.2 154.4 557.6 155.1 556.9 C155.8 556.3 156.4 555.6 157.1 554.9 C157.7 554.3 158.4 553.7 159.1 553.0 C159.7 552.4 160.4 551.7 161.1 551.1 C161.7 550.5 162.4 549.8 163.0 549.2 C163.7 548.6 164.4 547.9 165.0 547.3 C165.7 546.7 166.4 546.0 167.0 545.4 C167.7 544.8 168.4 544.1 169.0 543.5 C169.7 542.9 170.3 542.3 171.0 541.7 C171.7 541.1 172.3 540.5 173.0 539.9 C173.7 539.3 174.3 538.8 175.0 538.2 C175.6 537.7 176.3 537.2 177.0 536.7 C177.6 536.2 178.3 535.7 179.0 535.3 C179.6 534.9 180.3 534.5 180.9 534.1 C181.6 533.8 182.3 533.5 182.9 533.2 C183.6 532.9 184.3 532.7 184.9 532.5 C185.6 532.3 186.3 532.1 186.9 532.0 C187.6 531.8 188.2 531.7 188.9 531.6 C189.6 531.5 190.2 531.4 190.9 531.4 C191.6 531.3 192.2 531.3 192.9 531.2 C193.5 531.2 194.2 531.2 194.9 531.1 C195.5 531.1 196.2 531.1 196.9 531.1 C197.5 531.0 198.2 531.0 198.9 531.0 C199.5 531.0 200.2 531.0 200.8 530.9 C201.5 530.9 202.2 530.9 202.8 530.8 C203.5 530.8 204.2 530.8 204.8 530.7 C205.5 530.7 206.1 530.6 206.8 530.6 C207.5 530.6 208.1 530.5 208.8 530.5 C209.5 530.4 210.1 530.4 210.8 530.3 C211.4 530.3 212.1 530.2 212.8 530.2 C213.4 530.1 214.1 530.1 214.8 530.0 C215.4 530.0 216.1 529.9 216.8 529.9 C217.4 529.8 218.1 529.8 218.7 529.7 C219.4 529.7 220.1 529.6 220.7 529.6 C221.4 529.5 222.1 529.5 222.7 529.4 C223.4 529.4 224.0 529.4 224.7 529.3 C225.4 529.3 226.0 529.2 226.7 529.2 C227.4 529.2 228.0 529.1 228.7 529.1 C229.3 529.1 230.0 529.0 230.7 529.0 C231.3 529.0 232.0 528.9 232.7 528.9 C233.3 528.9 234.0 528.9 234.7 528.8 C235.3 528.8 236.0 528.8 236.6 528.8 C237.3 528.8 238.0 528.7 238.6 528.7 C239.3 528.7 240.0 528.7 240.6 528.7 C241.3 528.7 241.9 528.7 242.6 528.6 C243.3 528.6 243.9 528.6 244.6 528.6 C245.3 528.6 245.9 528.6 246.6 528.6 C247.2 528.5 247.9 528.5 248.6 528.5 C249.2 528.5 249.9 528.5 250.6 528.5 C251.2 528.5 251.9 528.5 252.6 528.5 C253.2 528.5 253.9 528.5 254.5 528.5 C255.2 528.5 255.9 528.6 256.5 528.6 C257.2 528.6 257.9 528.6 258.5 528.7 C259.2 528.7 259.8 528.8 260.5 528.8 C261.2 528.9 261.8 528.9 262.5 529.0 C263.2 529.1 263.8 529.2 264.5 529.3 C265.1 529.4 265.8 529.5 266.5 529.6 C267.1 529.7 267.8 529.9 268.5 530.1 C269.1 530.2 269.8 530.4 270.5 530.7 C271.1 530.9 271.8 531.2 272.4 531.5 C273.1 531.8 273.8 532.2 274.4 532.6 C275.1 533.0 275.8 533.5 276.4 534.0 C277.1 534.6 277.7 535.1 278.4 535.8 C279.1 536.4 279.7 537.1 280.4 537.8 C281.1 538.6 281.7 539.4 282.4 540.2 C283.1 541.0 283.7 541.9 284.4 542.8 C285.0 543.7 285.7 544.7 286.4 545.6 C287.0 546.6 287.7 547.6 288.4 548.6 C289.0 549.5 289.7 550.5 290.3 551.5 C291.0 552.5 291.7 553.5 292.3 554.5 C293.0 555.5 293.7 556.5 294.3 557.5 C295.0 558.5 295.6 559.5 296.3 560.4 C297.0 561.4 297.6 562.3 298.3 563.3 C299.0 564.2 299.6 565.1 300.3 566.0 C301.0 566.8 301.6 567.7 302.3 568.5 C302.9 569.3 303.6 570.1 304.3 570.8 C304.9 571.6 305.6 572.3 306.3 572.9 C306.9 573.6 307.6 574.2 308.2 574.8 C308.9 575.4 309.6 576.0 310.2 576.6 C310.9 577.1 311.6 577.6 312.2 578.1 C312.9 578.6 313.5 579.1 314.2 579.5 C314.9 580.0 315.9 580.7 316.2 580.9" fill="none" stroke="#4a7ebb" stroke-width="3.0" stroke-linejoin="round" stroke-linecap="round"/>
<line x1="45.70" y1="407.00" x2="45.70" y2="638.90" stroke="#aaaaaa" stroke-width="2.4"/>
<line x1="45.70" y1="637.90" x2="317.20" y2="637.90" stroke="#aaaaaa" stroke-width="2.4"/>
<line x1="41.70" y1="637.90" x2="45.70" y2="637.90" stroke="#777" stroke-width="0.8"/>
<line x1="41.70" y1="599.58" x2="45.70" y2="599.58" stroke="#777" stroke-width="0.8"/>
<line x1="41.70" y1="561.27" x2="45.70" y2="561.27" stroke="#777" stroke-width="0.8"/>
<line x1="41.70" y1="522.95" x2="45.70" y2="522.95" stroke="#777" stroke-width="0.8"/>
<line x1="41.70" y1="484.63" x2="45.70" y2="484.63" stroke="#777" stroke-width="0.8"/>
<line x1="41.70" y1="446.32" x2="45.70" y2="446.32" stroke="#777" stroke-width="0.8"/>
<line x1="41.70" y1="408.00" x2="45.70" y2="408.00" stroke="#777" stroke-width="0.8"/>
<line x1="90.78" y1="633.90" x2="90.78" y2="637.90" stroke="#999" stroke-width="1"/>
<line x1="135.87" y1="633.90" x2="135.87" y2="637.90" stroke="#999" stroke-width="1"/>
<line x1="180.95" y1="633.90" x2="180.95" y2="637.90" stroke="#999" stroke-width="1"/>
<line x1="226.03" y1="633.90" x2="226.03" y2="637.90" stroke="#999" stroke-width="1"/>
<line x1="271.12" y1="633.90" x2="271.12" y2="637.90" stroke="#999" stroke-width="1"/>
<text x="34.50" y="643.30" text-anchor="end" class="t" style="font-size:12.3px">-10</text>
<text x="34.50" y="604.98" text-anchor="end" class="t" style="font-size:12.3px">-5</text>
<text x="34.50" y="566.67" text-anchor="end" class="t" style="font-size:12.3px">0</text>
<text x="34.50" y="528.35" text-anchor="end" class="t" style="font-size:12.3px">5</text>
<text x="34.50" y="490.03" text-anchor="end" class="t" style="font-size:12.3px">10</text>
<text x="34.50" y="451.72" text-anchor="end" class="t" style="font-size:12.3px">15</text>
<text x="34.50" y="413.40" text-anchor="end" class="t" style="font-size:12.3px">20</text>
<text x="45.70" y="656.70" text-anchor="middle" class="t">0</text>
<text x="90.78" y="656.70" text-anchor="middle" class="t">4</text>
<text x="135.87" y="656.70" text-anchor="middle" class="t">8</text>
<text x="180.95" y="656.70" text-anchor="middle" class="t">12</text>
<text x="226.03" y="656.70" text-anchor="middle" class="t">16</text>
<text x="271.12" y="656.70" text-anchor="middle" class="t">20</text>
<text x="316.20" y="656.70" text-anchor="middle" class="t">24</text>
<text x="148.20" y="671.90" class="t" style="font-size:12.4px">Time (h)</text>
<text transform="translate(8.80 540.10) rotate(-90)" class="t">T<tspan font-size="7.5" dy="2">is</tspan><tspan dy="-2"> (°C)</tspan></text>
<line x1="66.70" y1="376.60" x2="96.70" y2="376.60" stroke="#4a7ebb" stroke-width="2.8" stroke-linecap="round"/>
<text x="100.10" y="380.10" class="t" style="font-size:12.65px">P = 0 W/m²</text>
<line x1="192.20" y1="376.60" x2="222.20" y2="376.60" stroke="#be4b48" stroke-width="2.8" stroke-linecap="round"/>
<text x="225.60" y="380.10" class="t" style="font-size:12.65px">P = 100 W/m²</text>
<line x1="66.70" y1="395.50" x2="96.70" y2="395.50" stroke="#98b954" stroke-width="2.8" stroke-linecap="round"/>
<text x="100.10" y="399.00" class="t" style="font-size:12.65px">P =200 W/m²</text>
<line x1="192.20" y1="395.50" x2="222.20" y2="395.50" stroke="#7d60a0" stroke-width="2.8" stroke-linecap="round"/>
<text x="225.60" y="399.00" class="t" style="font-size:12.65px">P = 300 W/m²</text>
<text x="98.40" y="706.30" class="cap">(c)<tspan dx="5.6">T</tspan><tspan font-size="12" dy="2.4">min</tspan><tspan dy="-2.4"> = -20 °C</tspan></text>
<line x1="454.07" y1="408.00" x2="454.07" y2="637.90" stroke="#dcdcdc" stroke-width="1.4"/>
<line x1="499.13" y1="408.00" x2="499.13" y2="637.90" stroke="#dcdcdc" stroke-width="1.4"/>
<line x1="544.20" y1="408.00" x2="544.20" y2="637.90" stroke="#dcdcdc" stroke-width="1.4"/>
<line x1="589.27" y1="408.00" x2="589.27" y2="637.90" stroke="#dcdcdc" stroke-width="1.4"/>
<line x1="634.33" y1="408.00" x2="634.33" y2="637.90" stroke="#dcdcdc" stroke-width="1.4"/>
<line x1="409.00" y1="591.92" x2="679.40" y2="591.92" stroke="#dcdcdc" stroke-width="1.4"/>
<line x1="409.00" y1="545.94" x2="679.40" y2="545.94" stroke="#dcdcdc" stroke-width="1.4"/>
<line x1="409.00" y1="499.96" x2="679.40" y2="499.96" stroke="#dcdcdc" stroke-width="1.4"/>
<line x1="409.00" y1="453.98" x2="679.40" y2="453.98" stroke="#dcdcdc" stroke-width="1.4"/>
<line x1="409.00" y1="408.00" x2="680.40" y2="408.00" stroke="#aaaaaa" stroke-width="2.2"/>
<line x1="679.40" y1="408.00" x2="679.40" y2="637.90" stroke="#d0d0d0" stroke-width="2"/>
<path d="M409.0 433.8 C409.3 434.3 410.3 435.7 411.0 436.7 C411.7 437.7 412.3 438.7 413.0 439.7 C413.6 440.8 414.3 441.9 415.0 443.2 C415.6 444.4 416.3 445.6 417.0 447.0 C417.6 448.4 418.3 449.9 418.9 451.4 C419.6 453.0 420.3 454.6 420.9 456.2 C421.6 457.8 422.3 459.5 422.9 461.1 C423.6 462.6 424.2 464.2 424.9 465.6 C425.6 467.1 426.2 468.5 426.9 469.8 C427.6 471.1 428.2 472.3 428.9 473.4 C429.5 474.6 430.2 475.7 430.9 476.7 C431.5 477.7 432.2 478.7 432.9 479.6 C433.5 480.5 434.2 481.4 434.8 482.2 C435.5 483.0 436.2 483.8 436.8 484.6 C437.5 485.4 438.2 486.1 438.8 486.8 C439.5 487.5 440.1 488.2 440.8 488.9 C441.5 489.5 442.1 490.1 442.8 490.7 C443.5 491.3 444.1 491.9 444.8 492.4 C445.5 493.0 446.1 493.5 446.8 493.9 C447.4 494.4 448.1 494.8 448.8 495.2 C449.4 495.6 450.1 496.0 450.8 496.3 C451.4 496.6 452.1 496.9 452.7 497.2 C453.4 497.4 454.1 497.6 454.7 497.8 C455.4 498.0 456.1 498.2 456.7 498.3 C457.4 498.5 458.0 498.6 458.7 498.7 C459.4 498.7 460.0 498.8 460.7 498.8 C461.4 498.9 462.0 498.9 462.7 498.8 C463.3 498.8 464.0 498.8 464.7 498.7 C465.3 498.6 466.0 498.5 466.7 498.4 C467.3 498.3 468.0 498.2 468.6 498.0 C469.3 497.8 470.0 497.7 470.6 497.5 C471.3 497.2 472.0 497.0 472.6 496.7 C473.3 496.5 473.9 496.2 474.6 495.9 C475.3 495.5 475.9 495.2 476.6 494.8 C477.3 494.4 477.9 494.0 478.6 493.6 C479.3 493.1 479.9 492.7 480.6 492.2 C481.2 491.7 481.9 491.2 482.6 490.6 C483.2 490.0 483.9 489.5 484.6 488.9 C485.2 488.3 485.9 487.6 486.5 487.0 C487.2 486.4 487.9 485.7 488.5 485.0 C489.2 484.4 489.9 483.7 490.5 483.0 C491.2 482.3 491.8 481.6 492.5 480.9 C493.2 480.1 493.8 479.4 494.5 478.7 C495.2 477.9 495.8 477.1 496.5 476.4 C497.1 475.6 497.8 474.8 498.5 474.0 C499.1 473.2 499.8 472.3 500.5 471.5 C501.1 470.7 501.8 469.8 502.4 468.9 C503.1 468.1 503.8 467.2 504.4 466.3 C505.1 465.4 505.8 464.4 506.4 463.5 C507.1 462.5 507.7 461.6 508.4 460.6 C509.1 459.6 509.7 458.5 510.4 457.5 C511.1 456.5 511.7 455.5 512.4 454.4 C513.1 453.4 513.7 452.4 514.4 451.4 C515.0 450.4 515.7 449.4 516.4 448.4 C517.0 447.5 517.7 446.5 518.4 445.6 C519.0 444.6 519.7 443.7 520.3 442.8 C521.0 441.9 521.7 441.0 522.3 440.2 C523.0 439.4 523.7 438.6 524.3 437.9 C525.0 437.2 525.6 436.5 526.3 435.9 C527.0 435.3 527.6 434.8 528.3 434.3 C529.0 433.9 529.6 433.5 530.3 433.2 C530.9 432.9 531.6 432.6 532.3 432.5 C532.9 432.3 533.6 432.1 534.3 432.0 C534.9 431.9 535.6 431.9 536.2 431.8 C536.9 431.7 537.6 431.7 538.2 431.7 C538.9 431.6 539.6 431.6 540.2 431.6 C540.9 431.6 541.5 431.6 542.2 431.6 C542.9 431.5 543.5 431.5 544.2 431.5 C544.9 431.5 545.5 431.6 546.2 431.6 C546.9 431.6 547.5 431.6 548.2 431.6 C548.8 431.6 549.5 431.6 550.2 431.6 C550.8 431.6 551.5 431.6 552.2 431.6 C552.8 431.6 553.5 431.6 554.1 431.5 C554.8 431.5 555.5 431.5 556.1 431.5 C556.8 431.5 557.5 431.4 558.1 431.4 C558.8 431.3 559.4 431.3 560.1 431.2 C560.8 431.1 561.4 431.1 562.1 431.0 C562.8 430.9 563.4 430.8 564.1 430.7 C564.7 430.6 565.4 430.5 566.1 430.3 C566.7 430.2 567.4 430.1 568.1 429.9 C568.7 429.7 569.4 429.6 570.0 429.4 C570.7 429.2 571.4 429.0 572.0 428.8 C572.7 428.6 573.4 428.4 574.0 428.2 C574.7 427.9 575.3 427.7 576.0 427.5 C576.7 427.3 577.3 427.1 578.0 426.8 C578.7 426.6 579.3 426.4 580.0 426.2 C580.7 426.0 581.3 425.8 582.0 425.7 C582.6 425.5 583.3 425.3 584.0 425.1 C584.6 425.0 585.3 424.8 586.0 424.6 C586.6 424.5 587.3 424.3 587.9 424.1 C588.6 424.0 589.3 423.8 589.9 423.6 C590.6 423.5 591.3 423.3 591.9 423.1 C592.6 422.9 593.2 422.7 593.9 422.6 C594.6 422.4 595.2 422.2 595.9 422.0 C596.6 421.8 597.2 421.6 597.9 421.4 C598.5 421.2 599.2 421.0 599.9 420.7 C600.5 420.5 601.2 420.2 601.9 420.0 C602.5 419.7 603.2 419.5 603.8 419.2 C604.5 418.9 605.2 418.6 605.8 418.4 C606.5 418.1 607.2 417.8 607.8 417.6 C608.5 417.3 609.1 417.1 609.8 416.9 C610.5 416.8 611.1 416.6 611.8 416.5 C612.5 416.4 613.1 416.4 613.8 416.4 C614.5 416.4 615.1 416.5 615.8 416.6 C616.4 416.7 617.1 416.9 617.8 417.1 C618.4 417.3 619.1 417.6 619.8 417.8 C620.4 418.1 621.1 418.5 621.7 418.8 C622.4 419.1 623.1 419.5 623.7 419.9 C624.4 420.3 625.1 420.7 625.7 421.1 C626.4 421.4 627.0 421.8 627.7 422.2 C628.4 422.6 629.0 423.0 629.7 423.3 C630.4 423.7 631.0 424.0 631.7 424.3 C632.3 424.6 633.0 424.9 633.7 425.1 C634.3 425.4 635.0 425.6 635.7 425.8 C636.3 426.0 637.0 426.2 637.6 426.3 C638.3 426.5 639.0 426.6 639.6 426.8 C640.3 426.9 641.0 427.0 641.6 427.1 C642.3 427.2 642.9 427.3 643.6 427.4 C644.3 427.5 644.9 427.5 645.6 427.6 C646.3 427.7 646.9 427.8 647.6 427.8 C648.3 427.9 648.9 427.9 649.6 428.0 C650.2 428.1 650.9 428.1 651.6 428.2 C652.2 428.2 652.9 428.3 653.6 428.4 C654.2 428.4 654.9 428.5 655.5 428.5 C656.2 428.6 656.9 428.7 657.5 428.7 C658.2 428.8 658.9 428.9 659.5 429.0 C660.2 429.0 660.8 429.1 661.5 429.2 C662.2 429.3 662.8 429.3 663.5 429.4 C664.2 429.5 664.8 429.6 665.5 429.7 C666.1 429.8 666.8 429.8 667.5 430.0 C668.1 430.1 668.8 430.2 669.5 430.4 C670.1 430.5 670.8 430.7 671.4 430.9 C672.1 431.1 672.8 431.3 673.4 431.5 C674.1 431.8 674.8 432.1 675.4 432.4 C676.1 432.7 676.7 433.0 677.4 433.3 C678.1 433.7 679.1 434.2 679.4 434.4" fill="none" stroke="#7d60a0" stroke-width="3.0" stroke-linejoin="round" stroke-linecap="round"/>
<path d="M409.0 494.6 C409.3 495.2 410.3 496.8 411.0 497.9 C411.7 499.0 412.3 500.0 413.0 501.1 C413.6 502.2 414.3 503.2 415.0 504.3 C415.6 505.3 416.3 506.4 417.0 507.4 C417.6 508.4 418.3 509.4 418.9 510.4 C419.6 511.3 420.3 512.3 420.9 513.2 C421.6 514.1 422.3 515.0 422.9 515.8 C423.6 516.7 424.2 517.5 424.9 518.3 C425.6 519.1 426.2 519.8 426.9 520.6 C427.6 521.3 428.2 522.0 428.9 522.6 C429.5 523.3 430.2 523.9 430.9 524.5 C431.5 525.1 432.2 525.7 432.9 526.3 C433.5 526.8 434.2 527.4 434.8 527.9 C435.5 528.4 436.2 528.9 436.8 529.4 C437.5 529.8 438.2 530.3 438.8 530.7 C439.5 531.1 440.1 531.6 440.8 531.9 C441.5 532.3 442.1 532.7 442.8 533.0 C443.5 533.3 444.1 533.6 444.8 533.9 C445.5 534.2 446.1 534.4 446.8 534.7 C447.4 534.9 448.1 535.1 448.8 535.3 C449.4 535.5 450.1 535.6 450.8 535.8 C451.4 535.9 452.1 536.0 452.7 536.1 C453.4 536.2 454.1 536.3 454.7 536.3 C455.4 536.3 456.1 536.3 456.7 536.3 C457.4 536.3 458.0 536.3 458.7 536.2 C459.4 536.2 460.0 536.1 460.7 536.0 C461.4 536.0 462.0 535.9 462.7 535.8 C463.3 535.7 464.0 535.6 464.7 535.5 C465.3 535.4 466.0 535.3 466.7 535.1 C467.3 535.0 468.0 534.8 468.6 534.6 C469.3 534.4 470.0 534.2 470.6 534.0 C471.3 533.8 472.0 533.5 472.6 533.2 C473.3 532.9 473.9 532.6 474.6 532.3 C475.3 532.0 475.9 531.6 476.6 531.2 C477.3 530.8 477.9 530.4 478.6 530.0 C479.3 529.5 479.9 529.1 480.6 528.5 C481.2 528.0 481.9 527.5 482.6 526.9 C483.2 526.3 483.9 525.7 484.6 525.1 C485.2 524.5 485.9 523.8 486.5 523.1 C487.2 522.4 487.9 521.7 488.5 520.9 C489.2 520.2 489.9 519.5 490.5 518.7 C491.2 518.0 491.8 517.2 492.5 516.4 C493.2 515.6 493.8 514.8 494.5 514.0 C495.2 513.2 495.8 512.4 496.5 511.6 C497.1 510.7 497.8 509.9 498.5 509.1 C499.1 508.2 499.8 507.3 500.5 506.5 C501.1 505.6 501.8 504.7 502.4 503.8 C503.1 502.9 503.8 502.0 504.4 501.1 C505.1 500.2 505.8 499.2 506.4 498.3 C507.1 497.4 507.7 496.5 508.4 495.5 C509.1 494.6 509.7 493.7 510.4 492.8 C511.1 491.9 511.7 491.0 512.4 490.1 C513.1 489.2 513.7 488.3 514.4 487.5 C515.0 486.6 515.7 485.8 516.4 484.9 C517.0 484.1 517.7 483.2 518.4 482.4 C519.0 481.5 519.7 480.6 520.3 479.7 C521.0 478.7 521.7 477.8 522.3 476.8 C523.0 475.9 523.7 474.9 524.3 473.9 C525.0 472.9 525.6 472.0 526.3 471.0 C527.0 470.0 527.6 469.1 528.3 468.1 C529.0 467.2 529.6 466.3 530.3 465.4 C530.9 464.5 531.6 463.6 532.3 462.9 C532.9 462.1 533.6 461.3 534.3 460.6 C534.9 460.0 535.6 459.4 536.2 458.9 C536.9 458.3 537.6 457.9 538.2 457.5 C538.9 457.1 539.6 456.8 540.2 456.6 C540.9 456.3 541.5 456.1 542.2 455.9 C542.9 455.7 543.5 455.6 544.2 455.5 C544.9 455.4 545.5 455.3 546.2 455.2 C546.9 455.2 547.5 455.1 548.2 455.1 C548.8 455.1 549.5 455.1 550.2 455.0 C550.8 455.0 551.5 455.0 552.2 455.0 C552.8 454.9 553.5 454.9 554.1 454.9 C554.8 454.9 555.5 454.8 556.1 454.8 C556.8 454.8 557.5 454.8 558.1 454.7 C558.8 454.7 559.4 454.7 560.1 454.7 C560.8 454.6 561.4 454.6 562.1 454.6 C562.8 454.6 563.4 454.6 564.1 454.5 C564.7 454.5 565.4 454.5 566.1 454.5 C566.7 454.5 567.4 454.5 568.1 454.4 C568.7 454.4 569.4 454.4 570.0 454.4 C570.7 454.4 571.4 454.3 572.0 454.3 C572.7 454.3 573.4 454.3 574.0 454.2 C574.7 454.2 575.3 454.2 576.0 454.1 C576.7 454.1 577.3 454.0 578.0 454.0 C578.7 453.9 579.3 453.9 580.0 453.8 C580.7 453.8 581.3 453.7 582.0 453.6 C582.6 453.6 583.3 453.5 584.0 453.4 C584.6 453.3 585.3 453.2 586.0 453.2 C586.6 453.1 587.3 453.0 587.9 452.9 C588.6 452.8 589.3 452.8 589.9 452.7 C590.6 452.6 591.3 452.5 591.9 452.5 C592.6 452.4 593.2 452.3 593.9 452.3 C594.6 452.2 595.2 452.2 595.9 452.2 C596.6 452.1 597.2 452.1 597.9 452.1 C598.5 452.0 599.2 452.0 599.9 452.0 C600.5 452.0 601.2 452.0 601.9 452.0 C602.5 452.0 603.2 452.1 603.8 452.1 C604.5 452.1 605.2 452.1 605.8 452.2 C606.5 452.2 607.2 452.2 607.8 452.3 C608.5 452.3 609.1 452.3 609.8 452.3 C610.5 452.4 611.1 452.4 611.8 452.4 C612.5 452.5 613.1 452.5 613.8 452.5 C614.5 452.6 615.1 452.6 615.8 452.6 C616.4 452.6 617.1 452.7 617.8 452.7 C618.4 452.7 619.1 452.7 619.8 452.7 C620.4 452.7 621.1 452.8 621.7 452.8 C622.4 452.8 623.1 452.8 623.7 452.8 C624.4 452.8 625.1 452.8 625.7 452.8 C626.4 452.8 627.0 452.8 627.7 452.8 C628.4 452.9 629.0 452.9 629.7 452.9 C630.4 452.9 631.0 452.9 631.7 452.9 C632.3 452.9 633.0 452.9 633.7 452.9 C634.3 452.9 635.0 452.9 635.7 452.9 C636.3 452.9 637.0 452.9 637.6 452.9 C638.3 452.9 639.0 452.9 639.6 452.9 C640.3 453.0 641.0 453.0 641.6 453.0 C642.3 453.0 642.9 453.0 643.6 453.1 C644.3 453.1 644.9 453.1 645.6 453.2 C646.3 453.2 646.9 453.3 647.6 453.3 C648.3 453.4 648.9 453.5 649.6 453.5 C650.2 453.6 650.9 453.7 651.6 453.8 C652.2 453.9 652.9 454.0 653.6 454.2 C654.2 454.3 654.9 454.5 655.5 454.8 C656.2 455.0 656.9 455.3 657.5 455.6 C658.2 456.0 658.9 456.4 659.5 456.8 C660.2 457.3 660.8 457.8 661.5 458.5 C662.2 459.1 662.8 459.8 663.5 460.6 C664.2 461.4 664.8 462.3 665.5 463.3 C666.1 464.3 666.8 465.4 667.5 466.6 C668.1 467.8 668.8 469.2 669.5 470.6 C670.1 472.0 670.8 473.5 671.4 475.1 C672.1 476.7 672.8 478.3 673.4 479.9 C674.1 481.6 674.8 483.3 675.4 485.0 C676.1 486.8 676.7 488.5 677.4 490.3 C678.1 492.1 679.1 494.8 679.4 495.7" fill="none" stroke="#98b954" stroke-width="3.0" stroke-linejoin="round" stroke-linecap="round"/>
<path d="M409.0 546.4 C409.3 546.8 410.3 547.8 411.0 548.4 C411.7 549.1 412.3 549.7 413.0 550.4 C413.6 551.0 414.3 551.7 415.0 552.3 C415.6 552.9 416.3 553.6 417.0 554.2 C417.6 554.8 418.3 555.4 418.9 556.0 C419.6 556.5 420.3 557.1 420.9 557.7 C421.6 558.2 422.3 558.7 422.9 559.3 C423.6 559.8 424.2 560.3 424.9 560.8 C425.6 561.3 426.2 561.7 426.9 562.2 C427.6 562.7 428.2 563.1 428.9 563.5 C429.5 564.0 430.2 564.4 430.9 564.8 C431.5 565.2 432.2 565.6 432.9 565.9 C433.5 566.3 434.2 566.7 434.8 567.0 C435.5 567.3 436.2 567.7 436.8 568.0 C437.5 568.3 438.2 568.6 438.8 568.9 C439.5 569.2 440.1 569.4 440.8 569.7 C441.5 569.9 442.1 570.2 442.8 570.4 C443.5 570.6 444.1 570.8 444.8 571.0 C445.5 571.2 446.1 571.4 446.8 571.6 C447.4 571.7 448.1 571.9 448.8 572.0 C449.4 572.2 450.1 572.3 450.8 572.4 C451.4 572.5 452.1 572.6 452.7 572.6 C453.4 572.7 454.1 572.7 454.7 572.8 C455.4 572.8 456.1 572.8 456.7 572.8 C457.4 572.8 458.0 572.7 458.7 572.7 C459.4 572.6 460.0 572.6 460.7 572.5 C461.4 572.4 462.0 572.3 462.7 572.1 C463.3 572.0 464.0 571.9 464.7 571.7 C465.3 571.5 466.0 571.3 466.7 571.1 C467.3 570.9 468.0 570.7 468.6 570.4 C469.3 570.2 470.0 569.9 470.6 569.6 C471.3 569.3 472.0 569.0 472.6 568.6 C473.3 568.3 473.9 567.9 474.6 567.6 C475.3 567.2 475.9 566.8 476.6 566.4 C477.3 565.9 477.9 565.5 478.6 565.0 C479.3 564.6 479.9 564.1 480.6 563.6 C481.2 563.1 481.9 562.5 482.6 562.0 C483.2 561.4 483.9 560.8 484.6 560.2 C485.2 559.5 485.9 558.9 486.5 558.2 C487.2 557.5 487.9 556.8 488.5 556.1 C489.2 555.3 489.9 554.6 490.5 553.8 C491.2 553.0 491.8 552.3 492.5 551.5 C493.2 550.7 493.8 549.9 494.5 549.1 C495.2 548.3 495.8 547.4 496.5 546.6 C497.1 545.8 497.8 544.9 498.5 544.1 C499.1 543.2 499.8 542.3 500.5 541.5 C501.1 540.6 501.8 539.7 502.4 538.7 C503.1 537.8 503.8 536.9 504.4 536.0 C505.1 535.0 505.8 534.1 506.4 533.2 C507.1 532.2 507.7 531.3 508.4 530.3 C509.1 529.4 509.7 528.5 510.4 527.5 C511.1 526.6 511.7 525.7 512.4 524.8 C513.1 523.9 513.7 523.0 514.4 522.1 C515.0 521.2 515.7 520.4 516.4 519.5 C517.0 518.6 517.7 517.7 518.4 516.7 C519.0 515.8 519.7 514.8 520.3 513.9 C521.0 512.9 521.7 511.9 522.3 511.0 C523.0 510.0 523.7 509.0 524.3 508.0 C525.0 507.1 525.6 506.1 526.3 505.1 C527.0 504.1 527.6 503.2 528.3 502.2 C529.0 501.2 529.6 500.3 530.3 499.3 C530.9 498.4 531.6 497.4 532.3 496.5 C532.9 495.6 533.6 494.8 534.3 494.0 C534.9 493.2 535.6 492.5 536.2 491.8 C536.9 491.2 537.6 490.6 538.2 490.1 C538.9 489.6 539.6 489.1 540.2 488.6 C540.9 488.2 541.5 487.8 542.2 487.4 C542.9 487.0 543.5 486.6 544.2 486.2 C544.9 485.9 545.5 485.5 546.2 485.2 C546.9 484.9 547.5 484.5 548.2 484.2 C548.8 483.9 549.5 483.7 550.2 483.4 C550.8 483.2 551.5 482.9 552.2 482.7 C552.8 482.5 553.5 482.4 554.1 482.2 C554.8 482.1 555.5 482.0 556.1 481.9 C556.8 481.7 557.5 481.7 558.1 481.6 C558.8 481.5 559.4 481.4 560.1 481.3 C560.8 481.3 561.4 481.2 562.1 481.1 C562.8 481.1 563.4 481.0 564.1 481.0 C564.7 480.9 565.4 480.8 566.1 480.8 C566.7 480.7 567.4 480.7 568.1 480.6 C568.7 480.6 569.4 480.5 570.0 480.5 C570.7 480.4 571.4 480.4 572.0 480.3 C572.7 480.3 573.4 480.3 574.0 480.2 C574.7 480.2 575.3 480.1 576.0 480.1 C576.7 480.0 577.3 480.0 578.0 479.9 C578.7 479.9 579.3 479.8 580.0 479.8 C580.7 479.7 581.3 479.7 582.0 479.6 C582.6 479.6 583.3 479.5 584.0 479.5 C584.6 479.4 585.3 479.4 586.0 479.3 C586.6 479.3 587.3 479.2 587.9 479.2 C588.6 479.2 589.3 479.1 589.9 479.1 C590.6 479.0 591.3 479.0 591.9 479.0 C592.6 478.9 593.2 478.9 593.9 478.8 C594.6 478.8 595.2 478.8 595.9 478.7 C596.6 478.7 597.2 478.7 597.9 478.7 C598.5 478.6 599.2 478.6 599.9 478.6 C600.5 478.6 601.2 478.5 601.9 478.5 C602.5 478.5 603.2 478.5 603.8 478.5 C604.5 478.5 605.2 478.5 605.8 478.4 C606.5 478.4 607.2 478.4 607.8 478.4 C608.5 478.4 609.1 478.4 609.8 478.4 C610.5 478.4 611.1 478.4 611.8 478.3 C612.5 478.3 613.1 478.3 613.8 478.3 C614.5 478.3 615.1 478.2 615.8 478.2 C616.4 478.2 617.1 478.1 617.8 478.1 C618.4 478.1 619.1 478.0 619.8 478.0 C620.4 478.0 621.1 478.0 621.7 477.9 C622.4 477.9 623.1 477.9 623.7 477.9 C624.4 477.9 625.1 477.9 625.7 477.9 C626.4 477.9 627.0 478.0 627.7 478.0 C628.4 478.1 629.0 478.1 629.7 478.2 C630.4 478.3 631.0 478.4 631.7 478.5 C632.3 478.6 633.0 478.7 633.7 478.9 C634.3 479.0 635.0 479.2 635.7 479.4 C636.3 479.6 637.0 479.9 637.6 480.2 C638.3 480.4 639.0 480.7 639.6 481.1 C640.3 481.5 641.0 481.9 641.6 482.4 C642.3 482.8 642.9 483.4 643.6 483.9 C644.3 484.5 644.9 485.2 645.6 485.9 C646.3 486.7 646.9 487.5 647.6 488.3 C648.3 489.2 648.9 490.2 649.6 491.3 C650.2 492.3 650.9 493.5 651.6 494.8 C652.2 496.0 652.9 497.4 653.6 498.8 C654.2 500.2 654.9 501.7 655.5 503.3 C656.2 504.8 656.9 506.4 657.5 507.9 C658.2 509.5 658.9 511.0 659.5 512.6 C660.2 514.1 660.8 515.7 661.5 517.2 C662.2 518.7 662.8 520.2 663.5 521.6 C664.2 523.0 664.8 524.4 665.5 525.8 C666.1 527.1 666.8 528.3 667.5 529.5 C668.1 530.7 668.8 531.9 669.5 533.0 C670.1 534.1 670.8 535.1 671.4 536.1 C672.1 537.1 672.8 538.0 673.4 538.9 C674.1 539.8 674.8 540.6 675.4 541.4 C676.1 542.3 676.7 543.1 677.4 543.9 C678.1 544.7 679.1 545.8 679.4 546.2" fill="none" stroke="#be4b48" stroke-width="3.0" stroke-linejoin="round" stroke-linecap="round"/>
<path d="M409.0 586.1 C409.3 586.4 410.3 587.2 411.0 587.7 C411.7 588.2 412.3 588.8 413.0 589.3 C413.6 589.8 414.3 590.3 415.0 590.9 C415.6 591.4 416.3 591.9 417.0 592.4 C417.6 592.9 418.3 593.4 418.9 593.9 C419.6 594.4 420.3 594.8 420.9 595.3 C421.6 595.8 422.3 596.2 422.9 596.7 C423.6 597.1 424.2 597.6 424.9 598.0 C425.6 598.4 426.2 598.9 426.9 599.3 C427.6 599.7 428.2 600.1 428.9 600.4 C429.5 600.8 430.2 601.2 430.9 601.5 C431.5 601.9 432.2 602.2 432.9 602.5 C433.5 602.8 434.2 603.1 434.8 603.4 C435.5 603.7 436.2 604.0 436.8 604.2 C437.5 604.5 438.2 604.7 438.8 605.0 C439.5 605.2 440.1 605.4 440.8 605.7 C441.5 605.9 442.1 606.1 442.8 606.3 C443.5 606.5 444.1 606.6 444.8 606.8 C445.5 607.0 446.1 607.1 446.8 607.3 C447.4 607.4 448.1 607.6 448.8 607.7 C449.4 607.8 450.1 607.9 450.8 608.0 C451.4 608.1 452.1 608.1 452.7 608.2 C453.4 608.3 454.1 608.3 454.7 608.3 C455.4 608.3 456.1 608.4 456.7 608.3 C457.4 608.3 458.0 608.3 458.7 608.3 C459.4 608.2 460.0 608.2 460.7 608.1 C461.4 608.1 462.0 608.0 462.7 607.9 C463.3 607.8 464.0 607.7 464.7 607.6 C465.3 607.4 466.0 607.3 466.7 607.2 C467.3 607.0 468.0 606.8 468.6 606.6 C469.3 606.5 470.0 606.2 470.6 606.0 C471.3 605.8 472.0 605.5 472.6 605.2 C473.3 604.9 473.9 604.6 474.6 604.2 C475.3 603.8 475.9 603.4 476.6 603.0 C477.3 602.6 477.9 602.1 478.6 601.6 C479.3 601.1 479.9 600.6 480.6 600.1 C481.2 599.5 481.9 598.9 482.6 598.3 C483.2 597.7 483.9 597.0 484.6 596.3 C485.2 595.7 485.9 595.0 486.5 594.3 C487.2 593.5 487.9 592.8 488.5 592.0 C489.2 591.3 489.9 590.5 490.5 589.7 C491.2 588.9 491.8 588.2 492.5 587.4 C493.2 586.6 493.8 585.8 494.5 585.0 C495.2 584.2 495.8 583.4 496.5 582.6 C497.1 581.8 497.8 581.0 498.5 580.2 C499.1 579.4 499.8 578.5 500.5 577.7 C501.1 576.9 501.8 576.1 502.4 575.2 C503.1 574.4 503.8 573.6 504.4 572.7 C505.1 571.8 505.8 570.9 506.4 570.0 C507.1 569.0 507.7 568.1 508.4 567.2 C509.1 566.2 509.7 565.3 510.4 564.3 C511.1 563.3 511.7 562.4 512.4 561.4 C513.1 560.5 513.7 559.5 514.4 558.6 C515.0 557.6 515.7 556.7 516.4 555.7 C517.0 554.8 517.7 553.8 518.4 552.9 C519.0 552.0 519.7 551.0 520.3 550.1 C521.0 549.2 521.7 548.3 522.3 547.4 C523.0 546.4 523.7 545.5 524.3 544.7 C525.0 543.8 525.6 542.9 526.3 542.0 C527.0 541.1 527.6 540.2 528.3 539.3 C529.0 538.4 529.6 537.5 530.3 536.6 C530.9 535.8 531.6 534.9 532.3 534.0 C532.9 533.1 533.6 532.2 534.3 531.4 C534.9 530.5 535.6 529.7 536.2 528.8 C536.9 528.0 537.6 527.2 538.2 526.4 C538.9 525.6 539.6 524.8 540.2 524.0 C540.9 523.2 541.5 522.5 542.2 521.8 C542.9 521.1 543.5 520.4 544.2 519.7 C544.9 519.1 545.5 518.4 546.2 517.8 C546.9 517.3 547.5 516.7 548.2 516.2 C548.8 515.7 549.5 515.2 550.2 514.8 C550.8 514.3 551.5 513.9 552.2 513.6 C552.8 513.2 553.5 512.9 554.1 512.6 C554.8 512.3 555.5 512.0 556.1 511.7 C556.8 511.5 557.5 511.3 558.1 511.0 C558.8 510.8 559.4 510.6 560.1 510.5 C560.8 510.3 561.4 510.1 562.1 510.0 C562.8 509.8 563.4 509.7 564.1 509.6 C564.7 509.4 565.4 509.3 566.1 509.2 C566.7 509.1 567.4 509.0 568.1 508.9 C568.7 508.8 569.4 508.7 570.0 508.6 C570.7 508.5 571.4 508.5 572.0 508.4 C572.7 508.4 573.4 508.3 574.0 508.2 C574.7 508.2 575.3 508.2 576.0 508.1 C576.7 508.1 577.3 508.0 578.0 508.0 C578.7 508.0 579.3 508.0 580.0 507.9 C580.7 507.9 581.3 507.9 582.0 507.9 C582.6 507.9 583.3 507.9 584.0 507.8 C584.6 507.8 585.3 507.8 586.0 507.8 C586.6 507.8 587.3 507.8 587.9 507.8 C588.6 507.8 589.3 507.8 589.9 507.8 C590.6 507.8 591.3 507.8 591.9 507.8 C592.6 507.8 593.2 507.8 593.9 507.8 C594.6 507.7 595.2 507.7 595.9 507.7 C596.6 507.7 597.2 507.7 597.9 507.7 C598.5 507.7 599.2 507.7 599.9 507.7 C600.5 507.6 601.2 507.6 601.9 507.6 C602.5 507.6 603.2 507.6 603.8 507.5 C604.5 507.5 605.2 507.5 605.8 507.5 C606.5 507.4 607.2 507.4 607.8 507.4 C608.5 507.3 609.1 507.3 609.8 507.2 C610.5 507.2 611.1 507.2 611.8 507.1 C612.5 507.1 613.1 507.0 613.8 507.0 C614.5 507.0 615.1 507.0 615.8 507.0 C616.4 507.0 617.1 507.0 617.8 507.0 C618.4 507.1 619.1 507.1 619.8 507.2 C620.4 507.3 621.1 507.4 621.7 507.5 C622.4 507.6 623.1 507.8 623.7 508.0 C624.4 508.2 625.1 508.4 625.7 508.7 C626.4 508.9 627.0 509.2 627.7 509.6 C628.4 509.9 629.0 510.3 629.7 510.7 C630.4 511.2 631.0 511.7 631.7 512.2 C632.3 512.8 633.0 513.4 633.7 514.1 C634.3 514.8 635.0 515.6 635.7 516.4 C636.3 517.3 637.0 518.2 637.6 519.2 C638.3 520.1 639.0 521.2 639.6 522.3 C640.3 523.4 641.0 524.5 641.6 525.7 C642.3 526.9 642.9 528.2 643.6 529.4 C644.3 530.7 644.9 532.0 645.6 533.3 C646.3 534.6 646.9 535.9 647.6 537.3 C648.3 538.6 648.9 539.9 649.6 541.2 C650.2 542.5 650.9 543.9 651.6 545.1 C652.2 546.4 652.9 547.7 653.6 548.9 C654.2 550.1 654.9 551.3 655.5 552.5 C656.2 553.7 656.9 554.8 657.5 556.0 C658.2 557.1 658.9 558.2 659.5 559.2 C660.2 560.3 660.8 561.3 661.5 562.3 C662.2 563.3 662.8 564.3 663.5 565.2 C664.2 566.2 664.8 567.1 665.5 568.0 C666.1 568.9 666.8 569.8 667.5 570.6 C668.1 571.5 668.8 572.4 669.5 573.2 C670.1 574.1 670.8 574.9 671.4 575.7 C672.1 576.5 672.8 577.4 673.4 578.2 C674.1 579.0 674.8 579.8 675.4 580.6 C676.1 581.4 676.7 582.2 677.4 583.0 C678.1 583.8 679.1 585.0 679.4 585.4" fill="none" stroke="#4a7ebb" stroke-width="3.0" stroke-linejoin="round" stroke-linecap="round"/>
<line x1="409.00" y1="407.00" x2="409.00" y2="638.90" stroke="#aaaaaa" stroke-width="2.4"/>
<line x1="409.00" y1="637.90" x2="680.40" y2="637.90" stroke="#aaaaaa" stroke-width="2.4"/>
<line x1="405.00" y1="637.90" x2="409.00" y2="637.90" stroke="#777" stroke-width="0.8"/>
<line x1="405.00" y1="591.92" x2="409.00" y2="591.92" stroke="#777" stroke-width="0.8"/>
<line x1="405.00" y1="545.94" x2="409.00" y2="545.94" stroke="#777" stroke-width="0.8"/>
<line x1="405.00" y1="499.96" x2="409.00" y2="499.96" stroke="#777" stroke-width="0.8"/>
<line x1="405.00" y1="453.98" x2="409.00" y2="453.98" stroke="#777" stroke-width="0.8"/>
<line x1="405.00" y1="408.00" x2="409.00" y2="408.00" stroke="#777" stroke-width="0.8"/>
<line x1="454.07" y1="633.90" x2="454.07" y2="637.90" stroke="#999" stroke-width="1"/>
<line x1="499.13" y1="633.90" x2="499.13" y2="637.90" stroke="#999" stroke-width="1"/>
<line x1="544.20" y1="633.90" x2="544.20" y2="637.90" stroke="#999" stroke-width="1"/>
<line x1="589.27" y1="633.90" x2="589.27" y2="637.90" stroke="#999" stroke-width="1"/>
<line x1="634.33" y1="633.90" x2="634.33" y2="637.90" stroke="#999" stroke-width="1"/>
<text x="397.80" y="643.30" text-anchor="end" class="t" style="font-size:12.3px">-10</text>
<text x="397.80" y="597.32" text-anchor="end" class="t" style="font-size:12.3px">-5</text>
<text x="397.80" y="551.34" text-anchor="end" class="t" style="font-size:12.3px">0</text>
<text x="397.80" y="505.36" text-anchor="end" class="t" style="font-size:12.3px">5</text>
<text x="397.80" y="459.38" text-anchor="end" class="t" style="font-size:12.3px">10</text>
<text x="397.80" y="413.40" text-anchor="end" class="t" style="font-size:12.3px">15</text>
<text x="409.00" y="656.70" text-anchor="middle" class="t">0</text>
<text x="454.07" y="656.70" text-anchor="middle" class="t">4</text>
<text x="499.13" y="656.70" text-anchor="middle" class="t">8</text>
<text x="544.20" y="656.70" text-anchor="middle" class="t">12</text>
<text x="589.27" y="656.70" text-anchor="middle" class="t">16</text>
<text x="634.33" y="656.70" text-anchor="middle" class="t">20</text>
<text x="679.40" y="656.70" text-anchor="middle" class="t">24</text>
<text x="511.50" y="671.90" class="t" style="font-size:12.4px">Time (h)</text>
<text transform="translate(372.10 540.10) rotate(-90)" class="t">T<tspan font-size="7.5" dy="2">is</tspan><tspan dy="-2"> (°C)</tspan></text>
<line x1="430.00" y1="376.60" x2="460.00" y2="376.60" stroke="#4a7ebb" stroke-width="2.8" stroke-linecap="round"/>
<text x="463.40" y="380.10" class="t" style="font-size:12.65px">P = 0 W/m²</text>
<line x1="555.50" y1="376.60" x2="585.50" y2="376.60" stroke="#be4b48" stroke-width="2.8" stroke-linecap="round"/>
<text x="588.90" y="380.10" class="t" style="font-size:12.65px">P = 100 W/m²</text>
<line x1="430.00" y1="395.50" x2="460.00" y2="395.50" stroke="#98b954" stroke-width="2.8" stroke-linecap="round"/>
<text x="463.40" y="399.00" class="t" style="font-size:12.65px">P =200 W/m²</text>
<line x1="555.50" y1="395.50" x2="585.50" y2="395.50" stroke="#7d60a0" stroke-width="2.8" stroke-linecap="round"/>
<text x="588.90" y="399.00" class="t" style="font-size:12.65px">P = 300 W/m²</text>
<text x="461.30" y="706.30" class="cap">(d)<tspan dx="5.0">T</tspan><tspan font-size="12" dy="2.4">min</tspan><tspan dy="-2.4"> = -30 °C</tspan></text>
</svg>
</body></html>
